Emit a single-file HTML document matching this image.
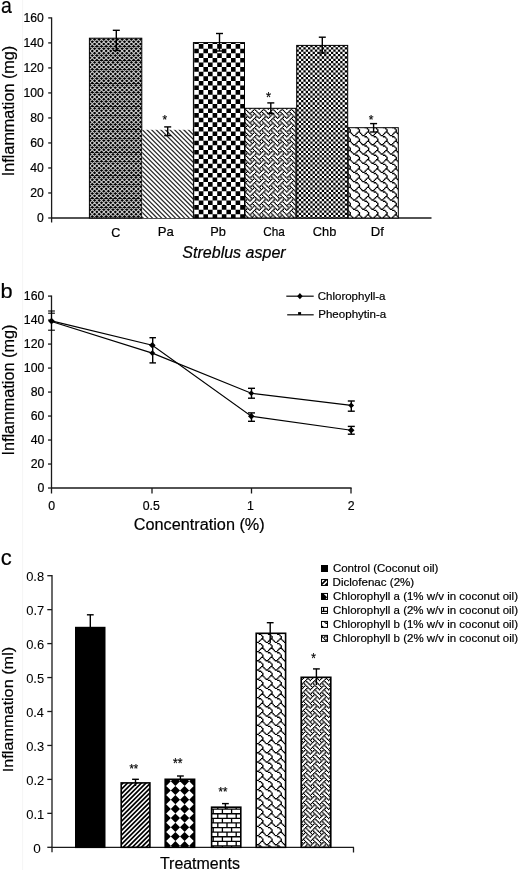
<!DOCTYPE html>
<html><head><meta charset="utf-8"><style>
html,body{margin:0;padding:0;background:#fff;}
svg{display:block;will-change:transform;}
text{font-family:"Liberation Sans",sans-serif;stroke:#000;stroke-width:0.2px;}
</style></head><body>
<svg width="520" height="870" viewBox="0 0 520 870">
<defs><pattern id="pC" patternUnits="userSpaceOnUse" x="0" y="0" width="46" height="46"><rect width="46" height="46" fill="#000"/><path transform="translate(2.6,0.3)" d="M-3 -53.60L49 -1.60M-3 -49.00L49 3.00M-3 -44.40L49 7.60M-3 -39.80L49 12.20M-3 -35.20L49 16.80M-3 -30.60L49 21.40M-3 -26.00L49 26.00M-3 -21.40L49 30.60M-3 -16.80L49 35.20M-3 -12.20L49 39.80M-3 -7.60L49 44.40M-3 -3.00L49 49.00M-3 1.60L49 53.60M-3 6.20L49 58.20M-3 10.80L49 62.80M-3 15.40L49 67.40M-3 20.00L49 72.00M-3 24.60L49 76.60M-3 29.20L49 81.20M-3 33.80L49 85.80M-3 38.40L49 90.40M-3 43.00L49 95.00M-3 47.60L49 99.60M-3 -1.60L49 -53.60M-3 3.00L49 -49.00M-3 7.60L49 -44.40M-3 12.20L49 -39.80M-3 16.80L49 -35.20M-3 21.40L49 -30.60M-3 26.00L49 -26.00M-3 30.60L49 -21.40M-3 35.20L49 -16.80M-3 39.80L49 -12.20M-3 44.40L49 -7.60M-3 49.00L49 -3.00M-3 53.60L49 1.60M-3 58.20L49 6.20M-3 62.80L49 10.80M-3 67.40L49 15.40M-3 72.00L49 20.00M-3 76.60L49 24.60M-3 81.20L49 29.20M-3 85.80L49 33.80M-3 90.40L49 38.40M-3 95.00L49 43.00M-3 99.60L49 47.60" stroke="#c8c8c8" stroke-width="1.05" fill="none"/></pattern><pattern id="pPa" patternUnits="userSpaceOnUse" x="0" y="0" width="46" height="46"><rect width="46" height="46" fill="#fff"/><path d="M-5.00 -63.60L51.00 -7.60M-5.00 -59.00L51.00 -3.00M-5.00 -54.40L51.00 1.60M-5.00 -49.80L51.00 6.20M-5.00 -45.20L51.00 10.80M-5.00 -40.60L51.00 15.40M-5.00 -36.00L51.00 20.00M-5.00 -31.40L51.00 24.60M-5.00 -26.80L51.00 29.20M-5.00 -22.20L51.00 33.80M-5.00 -17.60L51.00 38.40M-5.00 -13.00L51.00 43.00M-5.00 -8.40L51.00 47.60M-5.00 -3.80L51.00 52.20M-5.00 0.80L51.00 56.80M-5.00 5.40L51.00 61.40M-5.00 10.00L51.00 66.00M-5.00 14.60L51.00 70.60M-5.00 19.20L51.00 75.20M-5.00 23.80L51.00 79.80M-5.00 28.40L51.00 84.40M-5.00 33.00L51.00 89.00M-5.00 37.60L51.00 93.60M-5.00 42.20L51.00 98.20M-5.00 46.80L51.00 102.80M-5.00 51.40L51.00 107.40" stroke="#2a2a2a" stroke-width="1.269" fill="none"/></pattern><pattern id="pPb" patternUnits="userSpaceOnUse" x="0" y="0" width="46.000" height="46.000"><rect width="46.000" height="46.000" fill="#fff"/><path fill="#000" d="M0.00 0.00H1.00V2.70H0.00zM33.20 0.00H37.80V2.70H33.20zM24.00 0.00H28.60V2.70H24.00zM5.60 0.00H10.20V2.70H5.60zM42.40 0.00H46.00V2.70H42.40zM14.80 0.00H19.40V2.70H14.80zM1.00 2.70H5.60V7.30H1.00zM28.60 2.70H33.20V7.30H28.60zM37.80 2.70H42.40V7.30H37.80zM19.40 2.70H24.00V7.30H19.40zM10.20 2.70H14.80V7.30H10.20zM0.00 7.30H1.00V11.90H0.00zM33.20 7.30H37.80V11.90H33.20zM24.00 7.30H28.60V11.90H24.00zM5.60 7.30H10.20V11.90H5.60zM42.40 7.30H46.00V11.90H42.40zM14.80 7.30H19.40V11.90H14.80zM1.00 11.90H5.60V16.50H1.00zM28.60 11.90H33.20V16.50H28.60zM37.80 11.90H42.40V16.50H37.80zM19.40 11.90H24.00V16.50H19.40zM10.20 11.90H14.80V16.50H10.20zM0.00 16.50H1.00V21.10H0.00zM33.20 16.50H37.80V21.10H33.20zM24.00 16.50H28.60V21.10H24.00zM5.60 16.50H10.20V21.10H5.60zM42.40 16.50H46.00V21.10H42.40zM14.80 16.50H19.40V21.10H14.80zM1.00 21.10H5.60V25.70H1.00zM28.60 21.10H33.20V25.70H28.60zM37.80 21.10H42.40V25.70H37.80zM19.40 21.10H24.00V25.70H19.40zM10.20 21.10H14.80V25.70H10.20zM0.00 25.70H1.00V30.30H0.00zM33.20 25.70H37.80V30.30H33.20zM24.00 25.70H28.60V30.30H24.00zM5.60 25.70H10.20V30.30H5.60zM42.40 25.70H46.00V30.30H42.40zM14.80 25.70H19.40V30.30H14.80zM1.00 30.30H5.60V34.90H1.00zM28.60 30.30H33.20V34.90H28.60zM37.80 30.30H42.40V34.90H37.80zM19.40 30.30H24.00V34.90H19.40zM10.20 30.30H14.80V34.90H10.20zM0.00 34.90H1.00V39.50H0.00zM33.20 34.90H37.80V39.50H33.20zM24.00 34.90H28.60V39.50H24.00zM5.60 34.90H10.20V39.50H5.60zM42.40 34.90H46.00V39.50H42.40zM14.80 34.90H19.40V39.50H14.80zM1.00 39.50H5.60V44.10H1.00zM28.60 39.50H33.20V44.10H28.60zM37.80 39.50H42.40V44.10H37.80zM19.40 39.50H24.00V44.10H19.40zM10.20 39.50H14.80V44.10H10.20zM0.00 44.10H1.00V46.00H0.00zM33.20 44.10H37.80V46.00H33.20zM24.00 44.10H28.60V46.00H24.00zM5.60 44.10H10.20V46.00H5.60zM42.40 44.10H46.00V46.00H42.40zM14.80 44.10H19.40V46.00H14.80z"/></pattern><pattern id="pChb" patternUnits="userSpaceOnUse" x="0" y="0" width="46.000" height="46.000"><rect width="46.000" height="46.000" fill="#fff"/><path fill="#000" d="M34.30 0.00H36.60V1.15H34.30zM25.10 0.00H27.40V1.15H25.10zM29.70 0.00H32.00V1.15H29.70zM6.70 0.00H9.00V1.15H6.70zM2.10 0.00H4.40V1.15H2.10zM43.50 0.00H45.80V1.15H43.50zM38.90 0.00H41.20V1.15H38.90zM20.50 0.00H22.80V1.15H20.50zM11.30 0.00H13.60V1.15H11.30zM15.90 0.00H18.20V1.15H15.90zM41.20 1.15H43.50V3.45H41.20zM45.80 1.15H46.00V3.45H45.80zM22.80 1.15H25.10V3.45H22.80zM4.40 1.15H6.70V3.45H4.40zM13.60 1.15H15.90V3.45H13.60zM18.20 1.15H20.50V3.45H18.20zM0.00 1.15H2.10V3.45H0.00zM36.60 1.15H38.90V3.45H36.60zM27.40 1.15H29.70V3.45H27.40zM32.00 1.15H34.30V3.45H32.00zM9.00 1.15H11.30V3.45H9.00zM34.30 3.45H36.60V5.75H34.30zM25.10 3.45H27.40V5.75H25.10zM29.70 3.45H32.00V5.75H29.70zM6.70 3.45H9.00V5.75H6.70zM2.10 3.45H4.40V5.75H2.10zM43.50 3.45H45.80V5.75H43.50zM38.90 3.45H41.20V5.75H38.90zM20.50 3.45H22.80V5.75H20.50zM11.30 3.45H13.60V5.75H11.30zM15.90 3.45H18.20V5.75H15.90zM41.20 5.75H43.50V8.05H41.20zM45.80 5.75H46.00V8.05H45.80zM22.80 5.75H25.10V8.05H22.80zM4.40 5.75H6.70V8.05H4.40zM13.60 5.75H15.90V8.05H13.60zM18.20 5.75H20.50V8.05H18.20zM0.00 5.75H2.10V8.05H0.00zM36.60 5.75H38.90V8.05H36.60zM27.40 5.75H29.70V8.05H27.40zM32.00 5.75H34.30V8.05H32.00zM9.00 5.75H11.30V8.05H9.00zM34.30 8.05H36.60V10.35H34.30zM25.10 8.05H27.40V10.35H25.10zM29.70 8.05H32.00V10.35H29.70zM6.70 8.05H9.00V10.35H6.70zM2.10 8.05H4.40V10.35H2.10zM43.50 8.05H45.80V10.35H43.50zM38.90 8.05H41.20V10.35H38.90zM20.50 8.05H22.80V10.35H20.50zM11.30 8.05H13.60V10.35H11.30zM15.90 8.05H18.20V10.35H15.90zM41.20 10.35H43.50V12.65H41.20zM45.80 10.35H46.00V12.65H45.80zM22.80 10.35H25.10V12.65H22.80zM4.40 10.35H6.70V12.65H4.40zM13.60 10.35H15.90V12.65H13.60zM18.20 10.35H20.50V12.65H18.20zM0.00 10.35H2.10V12.65H0.00zM36.60 10.35H38.90V12.65H36.60zM27.40 10.35H29.70V12.65H27.40zM32.00 10.35H34.30V12.65H32.00zM9.00 10.35H11.30V12.65H9.00zM34.30 12.65H36.60V14.95H34.30zM25.10 12.65H27.40V14.95H25.10zM29.70 12.65H32.00V14.95H29.70zM6.70 12.65H9.00V14.95H6.70zM2.10 12.65H4.40V14.95H2.10zM43.50 12.65H45.80V14.95H43.50zM38.90 12.65H41.20V14.95H38.90zM20.50 12.65H22.80V14.95H20.50zM11.30 12.65H13.60V14.95H11.30zM15.90 12.65H18.20V14.95H15.90zM41.20 14.95H43.50V17.25H41.20zM45.80 14.95H46.00V17.25H45.80zM22.80 14.95H25.10V17.25H22.80zM4.40 14.95H6.70V17.25H4.40zM13.60 14.95H15.90V17.25H13.60zM18.20 14.95H20.50V17.25H18.20zM0.00 14.95H2.10V17.25H0.00zM36.60 14.95H38.90V17.25H36.60zM27.40 14.95H29.70V17.25H27.40zM32.00 14.95H34.30V17.25H32.00zM9.00 14.95H11.30V17.25H9.00zM34.30 17.25H36.60V19.55H34.30zM25.10 17.25H27.40V19.55H25.10zM29.70 17.25H32.00V19.55H29.70zM6.70 17.25H9.00V19.55H6.70zM2.10 17.25H4.40V19.55H2.10zM43.50 17.25H45.80V19.55H43.50zM38.90 17.25H41.20V19.55H38.90zM20.50 17.25H22.80V19.55H20.50zM11.30 17.25H13.60V19.55H11.30zM15.90 17.25H18.20V19.55H15.90zM41.20 19.55H43.50V21.85H41.20zM45.80 19.55H46.00V21.85H45.80zM22.80 19.55H25.10V21.85H22.80zM4.40 19.55H6.70V21.85H4.40zM13.60 19.55H15.90V21.85H13.60zM18.20 19.55H20.50V21.85H18.20zM0.00 19.55H2.10V21.85H0.00zM36.60 19.55H38.90V21.85H36.60zM27.40 19.55H29.70V21.85H27.40zM32.00 19.55H34.30V21.85H32.00zM9.00 19.55H11.30V21.85H9.00zM34.30 21.85H36.60V24.15H34.30zM25.10 21.85H27.40V24.15H25.10zM29.70 21.85H32.00V24.15H29.70zM6.70 21.85H9.00V24.15H6.70zM2.10 21.85H4.40V24.15H2.10zM43.50 21.85H45.80V24.15H43.50zM38.90 21.85H41.20V24.15H38.90zM20.50 21.85H22.80V24.15H20.50zM11.30 21.85H13.60V24.15H11.30zM15.90 21.85H18.20V24.15H15.90zM41.20 24.15H43.50V26.45H41.20zM45.80 24.15H46.00V26.45H45.80zM22.80 24.15H25.10V26.45H22.80zM4.40 24.15H6.70V26.45H4.40zM13.60 24.15H15.90V26.45H13.60zM18.20 24.15H20.50V26.45H18.20zM0.00 24.15H2.10V26.45H0.00zM36.60 24.15H38.90V26.45H36.60zM27.40 24.15H29.70V26.45H27.40zM32.00 24.15H34.30V26.45H32.00zM9.00 24.15H11.30V26.45H9.00zM34.30 26.45H36.60V28.75H34.30zM25.10 26.45H27.40V28.75H25.10zM29.70 26.45H32.00V28.75H29.70zM6.70 26.45H9.00V28.75H6.70zM2.10 26.45H4.40V28.75H2.10zM43.50 26.45H45.80V28.75H43.50zM38.90 26.45H41.20V28.75H38.90zM20.50 26.45H22.80V28.75H20.50zM11.30 26.45H13.60V28.75H11.30zM15.90 26.45H18.20V28.75H15.90zM41.20 28.75H43.50V31.05H41.20zM45.80 28.75H46.00V31.05H45.80zM22.80 28.75H25.10V31.05H22.80zM4.40 28.75H6.70V31.05H4.40zM13.60 28.75H15.90V31.05H13.60zM18.20 28.75H20.50V31.05H18.20zM0.00 28.75H2.10V31.05H0.00zM36.60 28.75H38.90V31.05H36.60zM27.40 28.75H29.70V31.05H27.40zM32.00 28.75H34.30V31.05H32.00zM9.00 28.75H11.30V31.05H9.00zM34.30 31.05H36.60V33.35H34.30zM25.10 31.05H27.40V33.35H25.10zM29.70 31.05H32.00V33.35H29.70zM6.70 31.05H9.00V33.35H6.70zM2.10 31.05H4.40V33.35H2.10zM43.50 31.05H45.80V33.35H43.50zM38.90 31.05H41.20V33.35H38.90zM20.50 31.05H22.80V33.35H20.50zM11.30 31.05H13.60V33.35H11.30zM15.90 31.05H18.20V33.35H15.90zM41.20 33.35H43.50V35.65H41.20zM45.80 33.35H46.00V35.65H45.80zM22.80 33.35H25.10V35.65H22.80zM4.40 33.35H6.70V35.65H4.40zM13.60 33.35H15.90V35.65H13.60zM18.20 33.35H20.50V35.65H18.20zM0.00 33.35H2.10V35.65H0.00zM36.60 33.35H38.90V35.65H36.60zM27.40 33.35H29.70V35.65H27.40zM32.00 33.35H34.30V35.65H32.00zM9.00 33.35H11.30V35.65H9.00zM34.30 35.65H36.60V37.95H34.30zM25.10 35.65H27.40V37.95H25.10zM29.70 35.65H32.00V37.95H29.70zM6.70 35.65H9.00V37.95H6.70zM2.10 35.65H4.40V37.95H2.10zM43.50 35.65H45.80V37.95H43.50zM38.90 35.65H41.20V37.95H38.90zM20.50 35.65H22.80V37.95H20.50zM11.30 35.65H13.60V37.95H11.30zM15.90 35.65H18.20V37.95H15.90zM41.20 37.95H43.50V40.25H41.20zM45.80 37.95H46.00V40.25H45.80zM22.80 37.95H25.10V40.25H22.80zM4.40 37.95H6.70V40.25H4.40zM13.60 37.95H15.90V40.25H13.60zM18.20 37.95H20.50V40.25H18.20zM0.00 37.95H2.10V40.25H0.00zM36.60 37.95H38.90V40.25H36.60zM27.40 37.95H29.70V40.25H27.40zM32.00 37.95H34.30V40.25H32.00zM9.00 37.95H11.30V40.25H9.00zM34.30 40.25H36.60V42.55H34.30zM25.10 40.25H27.40V42.55H25.10zM29.70 40.25H32.00V42.55H29.70zM6.70 40.25H9.00V42.55H6.70zM2.10 40.25H4.40V42.55H2.10zM43.50 40.25H45.80V42.55H43.50zM38.90 40.25H41.20V42.55H38.90zM20.50 40.25H22.80V42.55H20.50zM11.30 40.25H13.60V42.55H11.30zM15.90 40.25H18.20V42.55H15.90zM41.20 42.55H43.50V44.85H41.20zM45.80 42.55H46.00V44.85H45.80zM22.80 42.55H25.10V44.85H22.80zM4.40 42.55H6.70V44.85H4.40zM13.60 42.55H15.90V44.85H13.60zM18.20 42.55H20.50V44.85H18.20zM0.00 42.55H2.10V44.85H0.00zM36.60 42.55H38.90V44.85H36.60zM27.40 42.55H29.70V44.85H27.40zM32.00 42.55H34.30V44.85H32.00zM9.00 42.55H11.30V44.85H9.00zM34.30 44.85H36.60V46.00H34.30zM25.10 44.85H27.40V46.00H25.10zM29.70 44.85H32.00V46.00H29.70zM6.70 44.85H9.00V46.00H6.70zM2.10 44.85H4.40V46.00H2.10zM43.50 44.85H45.80V46.00H43.50zM38.90 44.85H41.20V46.00H38.90zM20.50 44.85H22.80V46.00H20.50zM11.30 44.85H13.60V46.00H11.30zM15.90 44.85H18.20V46.00H15.90z"/></pattern><pattern id="pWeave" patternUnits="userSpaceOnUse" x="0" y="0" width="46.000" height="46.000"><rect width="46.000" height="46.000" fill="#fff"/><path fill="#000" d="M6.64 0.00H8.01V0.61H6.64zM31.94 0.00H33.31V0.61H31.94zM34.24 0.00H35.61V0.61H34.24zM15.84 0.00H17.21V0.61H15.84zM41.14 0.00H42.51V0.61H41.14zM22.74 0.00H24.11V0.61H22.74zM4.34 0.00H5.71V0.61H4.34zM25.04 0.00H26.41V0.61H25.04zM43.44 0.00H44.81V0.61H43.44zM13.54 0.00H14.91V0.61H13.54zM35.39 0.39H36.76V1.76H35.39zM16.99 0.39H18.36V1.76H16.99zM44.59 0.39H45.96V1.76H44.59zM30.79 0.39H32.16V1.76H30.79zM12.39 0.39H13.76V1.76H12.39zM21.59 0.39H22.96V1.76H21.59zM3.19 0.39H4.56V1.76H3.19zM7.79 0.39H9.16V1.76H7.79zM39.99 0.39H41.36V1.76H39.99zM26.19 0.39H27.56V1.76H26.19zM20.44 1.54H21.81V2.91H20.44zM27.34 1.54H28.71V2.91H27.34zM31.94 1.54H33.31V2.91H31.94zM0.00 1.54H1.11V2.91H0.00zM8.94 1.54H10.31V2.91H8.94zM11.24 1.54H12.61V2.91H11.24zM2.04 1.54H3.41V2.91H2.04zM29.64 1.54H31.01V2.91H29.64zM41.14 1.54H42.51V2.91H41.14zM38.84 1.54H40.21V2.91H38.84zM22.74 1.54H24.11V2.91H22.74zM45.74 1.54H46.00V2.91H45.74zM4.34 1.54H5.71V2.91H4.34zM36.54 1.54H37.91V2.91H36.54zM13.54 1.54H14.91V2.91H13.54zM18.14 1.54H19.51V2.91H18.14zM5.49 2.69H6.86V4.06H5.49zM10.09 2.69H11.46V4.06H10.09zM19.29 2.69H20.66V4.06H19.29zM0.89 2.69H2.26V4.06H0.89zM42.29 2.69H43.66V4.06H42.29zM23.89 2.69H25.26V4.06H23.89zM33.09 2.69H34.46V4.06H33.09zM37.69 2.69H39.06V4.06H37.69zM14.69 2.69H16.06V4.06H14.69zM28.49 2.69H29.86V4.06H28.49zM20.44 3.84H21.81V5.21H20.44zM6.64 3.84H8.01V5.21H6.64zM31.94 3.84H33.31V5.21H31.94zM11.24 3.84H12.61V5.21H11.24zM2.04 3.84H3.41V5.21H2.04zM29.64 3.84H31.01V5.21H29.64zM34.24 3.84H35.61V5.21H34.24zM15.84 3.84H17.21V5.21H15.84zM41.14 3.84H42.51V5.21H41.14zM22.74 3.84H24.11V5.21H22.74zM4.34 3.84H5.71V5.21H4.34zM25.04 3.84H26.41V5.21H25.04zM43.44 3.84H44.81V5.21H43.44zM13.54 3.84H14.91V5.21H13.54zM38.84 3.84H40.21V5.21H38.84zM35.39 4.99H36.76V6.36H35.39zM16.99 4.99H18.36V6.36H16.99zM44.59 4.99H45.96V6.36H44.59zM30.79 4.99H32.16V6.36H30.79zM12.39 4.99H13.76V6.36H12.39zM21.59 4.99H22.96V6.36H21.59zM3.19 4.99H4.56V6.36H3.19zM7.79 4.99H9.16V6.36H7.79zM39.99 4.99H41.36V6.36H39.99zM26.19 4.99H27.56V6.36H26.19zM20.44 6.14H21.81V7.51H20.44zM6.64 6.14H8.01V7.51H6.64zM27.34 6.14H28.71V7.51H27.34zM0.00 6.14H1.11V7.51H0.00zM8.94 6.14H10.31V7.51H8.94zM11.24 6.14H12.61V7.51H11.24zM2.04 6.14H3.41V7.51H2.04zM29.64 6.14H31.01V7.51H29.64zM34.24 6.14H35.61V7.51H34.24zM15.84 6.14H17.21V7.51H15.84zM38.84 6.14H40.21V7.51H38.84zM45.74 6.14H46.00V7.51H45.74zM25.04 6.14H26.41V7.51H25.04zM43.44 6.14H44.81V7.51H43.44zM36.54 6.14H37.91V7.51H36.54zM18.14 6.14H19.51V7.51H18.14zM5.49 7.29H6.86V8.66H5.49zM10.09 7.29H11.46V8.66H10.09zM19.29 7.29H20.66V8.66H19.29zM0.89 7.29H2.26V8.66H0.89zM42.29 7.29H43.66V8.66H42.29zM23.89 7.29H25.26V8.66H23.89zM33.09 7.29H34.46V8.66H33.09zM37.69 7.29H39.06V8.66H37.69zM14.69 7.29H16.06V8.66H14.69zM28.49 7.29H29.86V8.66H28.49zM6.64 8.44H8.01V9.81H6.64zM31.94 8.44H33.31V9.81H31.94zM34.24 8.44H35.61V9.81H34.24zM15.84 8.44H17.21V9.81H15.84zM41.14 8.44H42.51V9.81H41.14zM22.74 8.44H24.11V9.81H22.74zM4.34 8.44H5.71V9.81H4.34zM25.04 8.44H26.41V9.81H25.04zM43.44 8.44H44.81V9.81H43.44zM13.54 8.44H14.91V9.81H13.54zM35.39 9.59H36.76V10.96H35.39zM16.99 9.59H18.36V10.96H16.99zM44.59 9.59H45.96V10.96H44.59zM30.79 9.59H32.16V10.96H30.79zM12.39 9.59H13.76V10.96H12.39zM21.59 9.59H22.96V10.96H21.59zM3.19 9.59H4.56V10.96H3.19zM7.79 9.59H9.16V10.96H7.79zM39.99 9.59H41.36V10.96H39.99zM26.19 9.59H27.56V10.96H26.19zM20.44 10.74H21.81V12.11H20.44zM27.34 10.74H28.71V12.11H27.34zM31.94 10.74H33.31V12.11H31.94zM0.00 10.74H1.11V12.11H0.00zM8.94 10.74H10.31V12.11H8.94zM11.24 10.74H12.61V12.11H11.24zM2.04 10.74H3.41V12.11H2.04zM29.64 10.74H31.01V12.11H29.64zM41.14 10.74H42.51V12.11H41.14zM38.84 10.74H40.21V12.11H38.84zM22.74 10.74H24.11V12.11H22.74zM45.74 10.74H46.00V12.11H45.74zM4.34 10.74H5.71V12.11H4.34zM36.54 10.74H37.91V12.11H36.54zM13.54 10.74H14.91V12.11H13.54zM18.14 10.74H19.51V12.11H18.14zM5.49 11.89H6.86V13.26H5.49zM10.09 11.89H11.46V13.26H10.09zM19.29 11.89H20.66V13.26H19.29zM0.89 11.89H2.26V13.26H0.89zM42.29 11.89H43.66V13.26H42.29zM23.89 11.89H25.26V13.26H23.89zM33.09 11.89H34.46V13.26H33.09zM37.69 11.89H39.06V13.26H37.69zM14.69 11.89H16.06V13.26H14.69zM28.49 11.89H29.86V13.26H28.49zM20.44 13.04H21.81V14.41H20.44zM6.64 13.04H8.01V14.41H6.64zM31.94 13.04H33.31V14.41H31.94zM11.24 13.04H12.61V14.41H11.24zM2.04 13.04H3.41V14.41H2.04zM29.64 13.04H31.01V14.41H29.64zM34.24 13.04H35.61V14.41H34.24zM15.84 13.04H17.21V14.41H15.84zM41.14 13.04H42.51V14.41H41.14zM22.74 13.04H24.11V14.41H22.74zM4.34 13.04H5.71V14.41H4.34zM25.04 13.04H26.41V14.41H25.04zM43.44 13.04H44.81V14.41H43.44zM13.54 13.04H14.91V14.41H13.54zM38.84 13.04H40.21V14.41H38.84zM35.39 14.19H36.76V15.56H35.39zM16.99 14.19H18.36V15.56H16.99zM44.59 14.19H45.96V15.56H44.59zM30.79 14.19H32.16V15.56H30.79zM12.39 14.19H13.76V15.56H12.39zM21.59 14.19H22.96V15.56H21.59zM3.19 14.19H4.56V15.56H3.19zM7.79 14.19H9.16V15.56H7.79zM39.99 14.19H41.36V15.56H39.99zM26.19 14.19H27.56V15.56H26.19zM20.44 15.34H21.81V16.71H20.44zM6.64 15.34H8.01V16.71H6.64zM27.34 15.34H28.71V16.71H27.34zM0.00 15.34H1.11V16.71H0.00zM8.94 15.34H10.31V16.71H8.94zM11.24 15.34H12.61V16.71H11.24zM2.04 15.34H3.41V16.71H2.04zM29.64 15.34H31.01V16.71H29.64zM34.24 15.34H35.61V16.71H34.24zM15.84 15.34H17.21V16.71H15.84zM38.84 15.34H40.21V16.71H38.84zM45.74 15.34H46.00V16.71H45.74zM25.04 15.34H26.41V16.71H25.04zM43.44 15.34H44.81V16.71H43.44zM36.54 15.34H37.91V16.71H36.54zM18.14 15.34H19.51V16.71H18.14zM5.49 16.49H6.86V17.86H5.49zM10.09 16.49H11.46V17.86H10.09zM19.29 16.49H20.66V17.86H19.29zM0.89 16.49H2.26V17.86H0.89zM42.29 16.49H43.66V17.86H42.29zM23.89 16.49H25.26V17.86H23.89zM33.09 16.49H34.46V17.86H33.09zM37.69 16.49H39.06V17.86H37.69zM14.69 16.49H16.06V17.86H14.69zM28.49 16.49H29.86V17.86H28.49zM6.64 17.64H8.01V19.01H6.64zM31.94 17.64H33.31V19.01H31.94zM34.24 17.64H35.61V19.01H34.24zM15.84 17.64H17.21V19.01H15.84zM41.14 17.64H42.51V19.01H41.14zM22.74 17.64H24.11V19.01H22.74zM4.34 17.64H5.71V19.01H4.34zM25.04 17.64H26.41V19.01H25.04zM43.44 17.64H44.81V19.01H43.44zM13.54 17.64H14.91V19.01H13.54zM35.39 18.79H36.76V20.16H35.39zM16.99 18.79H18.36V20.16H16.99zM44.59 18.79H45.96V20.16H44.59zM30.79 18.79H32.16V20.16H30.79zM12.39 18.79H13.76V20.16H12.39zM21.59 18.79H22.96V20.16H21.59zM3.19 18.79H4.56V20.16H3.19zM7.79 18.79H9.16V20.16H7.79zM39.99 18.79H41.36V20.16H39.99zM26.19 18.79H27.56V20.16H26.19zM20.44 19.94H21.81V21.31H20.44zM27.34 19.94H28.71V21.31H27.34zM31.94 19.94H33.31V21.31H31.94zM0.00 19.94H1.11V21.31H0.00zM8.94 19.94H10.31V21.31H8.94zM11.24 19.94H12.61V21.31H11.24zM2.04 19.94H3.41V21.31H2.04zM29.64 19.94H31.01V21.31H29.64zM41.14 19.94H42.51V21.31H41.14zM38.84 19.94H40.21V21.31H38.84zM22.74 19.94H24.11V21.31H22.74zM45.74 19.94H46.00V21.31H45.74zM4.34 19.94H5.71V21.31H4.34zM36.54 19.94H37.91V21.31H36.54zM13.54 19.94H14.91V21.31H13.54zM18.14 19.94H19.51V21.31H18.14zM5.49 21.09H6.86V22.46H5.49zM10.09 21.09H11.46V22.46H10.09zM19.29 21.09H20.66V22.46H19.29zM0.89 21.09H2.26V22.46H0.89zM42.29 21.09H43.66V22.46H42.29zM23.89 21.09H25.26V22.46H23.89zM33.09 21.09H34.46V22.46H33.09zM37.69 21.09H39.06V22.46H37.69zM14.69 21.09H16.06V22.46H14.69zM28.49 21.09H29.86V22.46H28.49zM20.44 22.24H21.81V23.61H20.44zM6.64 22.24H8.01V23.61H6.64zM31.94 22.24H33.31V23.61H31.94zM11.24 22.24H12.61V23.61H11.24zM2.04 22.24H3.41V23.61H2.04zM29.64 22.24H31.01V23.61H29.64zM34.24 22.24H35.61V23.61H34.24zM15.84 22.24H17.21V23.61H15.84zM41.14 22.24H42.51V23.61H41.14zM22.74 22.24H24.11V23.61H22.74zM4.34 22.24H5.71V23.61H4.34zM25.04 22.24H26.41V23.61H25.04zM43.44 22.24H44.81V23.61H43.44zM13.54 22.24H14.91V23.61H13.54zM38.84 22.24H40.21V23.61H38.84zM35.39 23.39H36.76V24.76H35.39zM16.99 23.39H18.36V24.76H16.99zM44.59 23.39H45.96V24.76H44.59zM30.79 23.39H32.16V24.76H30.79zM12.39 23.39H13.76V24.76H12.39zM21.59 23.39H22.96V24.76H21.59zM3.19 23.39H4.56V24.76H3.19zM7.79 23.39H9.16V24.76H7.79zM39.99 23.39H41.36V24.76H39.99zM26.19 23.39H27.56V24.76H26.19zM20.44 24.54H21.81V25.91H20.44zM6.64 24.54H8.01V25.91H6.64zM27.34 24.54H28.71V25.91H27.34zM0.00 24.54H1.11V25.91H0.00zM8.94 24.54H10.31V25.91H8.94zM11.24 24.54H12.61V25.91H11.24zM2.04 24.54H3.41V25.91H2.04zM29.64 24.54H31.01V25.91H29.64zM34.24 24.54H35.61V25.91H34.24zM15.84 24.54H17.21V25.91H15.84zM38.84 24.54H40.21V25.91H38.84zM45.74 24.54H46.00V25.91H45.74zM25.04 24.54H26.41V25.91H25.04zM43.44 24.54H44.81V25.91H43.44zM36.54 24.54H37.91V25.91H36.54zM18.14 24.54H19.51V25.91H18.14zM5.49 25.69H6.86V27.06H5.49zM10.09 25.69H11.46V27.06H10.09zM19.29 25.69H20.66V27.06H19.29zM0.89 25.69H2.26V27.06H0.89zM42.29 25.69H43.66V27.06H42.29zM23.89 25.69H25.26V27.06H23.89zM33.09 25.69H34.46V27.06H33.09zM37.69 25.69H39.06V27.06H37.69zM14.69 25.69H16.06V27.06H14.69zM28.49 25.69H29.86V27.06H28.49zM6.64 26.84H8.01V28.21H6.64zM31.94 26.84H33.31V28.21H31.94zM34.24 26.84H35.61V28.21H34.24zM15.84 26.84H17.21V28.21H15.84zM41.14 26.84H42.51V28.21H41.14zM22.74 26.84H24.11V28.21H22.74zM4.34 26.84H5.71V28.21H4.34zM25.04 26.84H26.41V28.21H25.04zM43.44 26.84H44.81V28.21H43.44zM13.54 26.84H14.91V28.21H13.54zM35.39 27.99H36.76V29.36H35.39zM16.99 27.99H18.36V29.36H16.99zM44.59 27.99H45.96V29.36H44.59zM30.79 27.99H32.16V29.36H30.79zM12.39 27.99H13.76V29.36H12.39zM21.59 27.99H22.96V29.36H21.59zM3.19 27.99H4.56V29.36H3.19zM7.79 27.99H9.16V29.36H7.79zM39.99 27.99H41.36V29.36H39.99zM26.19 27.99H27.56V29.36H26.19zM20.44 29.14H21.81V30.51H20.44zM27.34 29.14H28.71V30.51H27.34zM31.94 29.14H33.31V30.51H31.94zM0.00 29.14H1.11V30.51H0.00zM8.94 29.14H10.31V30.51H8.94zM11.24 29.14H12.61V30.51H11.24zM2.04 29.14H3.41V30.51H2.04zM29.64 29.14H31.01V30.51H29.64zM41.14 29.14H42.51V30.51H41.14zM38.84 29.14H40.21V30.51H38.84zM22.74 29.14H24.11V30.51H22.74zM45.74 29.14H46.00V30.51H45.74zM4.34 29.14H5.71V30.51H4.34zM36.54 29.14H37.91V30.51H36.54zM13.54 29.14H14.91V30.51H13.54zM18.14 29.14H19.51V30.51H18.14zM5.49 30.29H6.86V31.66H5.49zM10.09 30.29H11.46V31.66H10.09zM19.29 30.29H20.66V31.66H19.29zM0.89 30.29H2.26V31.66H0.89zM42.29 30.29H43.66V31.66H42.29zM23.89 30.29H25.26V31.66H23.89zM33.09 30.29H34.46V31.66H33.09zM37.69 30.29H39.06V31.66H37.69zM14.69 30.29H16.06V31.66H14.69zM28.49 30.29H29.86V31.66H28.49zM20.44 31.44H21.81V32.81H20.44zM6.64 31.44H8.01V32.81H6.64zM31.94 31.44H33.31V32.81H31.94zM11.24 31.44H12.61V32.81H11.24zM2.04 31.44H3.41V32.81H2.04zM29.64 31.44H31.01V32.81H29.64zM34.24 31.44H35.61V32.81H34.24zM15.84 31.44H17.21V32.81H15.84zM41.14 31.44H42.51V32.81H41.14zM22.74 31.44H24.11V32.81H22.74zM4.34 31.44H5.71V32.81H4.34zM25.04 31.44H26.41V32.81H25.04zM43.44 31.44H44.81V32.81H43.44zM13.54 31.44H14.91V32.81H13.54zM38.84 31.44H40.21V32.81H38.84zM35.39 32.59H36.76V33.96H35.39zM16.99 32.59H18.36V33.96H16.99zM44.59 32.59H45.96V33.96H44.59zM30.79 32.59H32.16V33.96H30.79zM12.39 32.59H13.76V33.96H12.39zM21.59 32.59H22.96V33.96H21.59zM3.19 32.59H4.56V33.96H3.19zM7.79 32.59H9.16V33.96H7.79zM39.99 32.59H41.36V33.96H39.99zM26.19 32.59H27.56V33.96H26.19zM20.44 33.74H21.81V35.11H20.44zM6.64 33.74H8.01V35.11H6.64zM27.34 33.74H28.71V35.11H27.34zM0.00 33.74H1.11V35.11H0.00zM8.94 33.74H10.31V35.11H8.94zM11.24 33.74H12.61V35.11H11.24zM2.04 33.74H3.41V35.11H2.04zM29.64 33.74H31.01V35.11H29.64zM34.24 33.74H35.61V35.11H34.24zM15.84 33.74H17.21V35.11H15.84zM38.84 33.74H40.21V35.11H38.84zM45.74 33.74H46.00V35.11H45.74zM25.04 33.74H26.41V35.11H25.04zM43.44 33.74H44.81V35.11H43.44zM36.54 33.74H37.91V35.11H36.54zM18.14 33.74H19.51V35.11H18.14zM5.49 34.89H6.86V36.26H5.49zM10.09 34.89H11.46V36.26H10.09zM19.29 34.89H20.66V36.26H19.29zM0.89 34.89H2.26V36.26H0.89zM42.29 34.89H43.66V36.26H42.29zM23.89 34.89H25.26V36.26H23.89zM33.09 34.89H34.46V36.26H33.09zM37.69 34.89H39.06V36.26H37.69zM14.69 34.89H16.06V36.26H14.69zM28.49 34.89H29.86V36.26H28.49zM6.64 36.04H8.01V37.41H6.64zM31.94 36.04H33.31V37.41H31.94zM34.24 36.04H35.61V37.41H34.24zM15.84 36.04H17.21V37.41H15.84zM41.14 36.04H42.51V37.41H41.14zM22.74 36.04H24.11V37.41H22.74zM4.34 36.04H5.71V37.41H4.34zM25.04 36.04H26.41V37.41H25.04zM43.44 36.04H44.81V37.41H43.44zM13.54 36.04H14.91V37.41H13.54zM35.39 37.19H36.76V38.56H35.39zM16.99 37.19H18.36V38.56H16.99zM44.59 37.19H45.96V38.56H44.59zM30.79 37.19H32.16V38.56H30.79zM12.39 37.19H13.76V38.56H12.39zM21.59 37.19H22.96V38.56H21.59zM3.19 37.19H4.56V38.56H3.19zM7.79 37.19H9.16V38.56H7.79zM39.99 37.19H41.36V38.56H39.99zM26.19 37.19H27.56V38.56H26.19zM20.44 38.34H21.81V39.71H20.44zM27.34 38.34H28.71V39.71H27.34zM31.94 38.34H33.31V39.71H31.94zM0.00 38.34H1.11V39.71H0.00zM8.94 38.34H10.31V39.71H8.94zM11.24 38.34H12.61V39.71H11.24zM2.04 38.34H3.41V39.71H2.04zM29.64 38.34H31.01V39.71H29.64zM41.14 38.34H42.51V39.71H41.14zM38.84 38.34H40.21V39.71H38.84zM22.74 38.34H24.11V39.71H22.74zM45.74 38.34H46.00V39.71H45.74zM4.34 38.34H5.71V39.71H4.34zM36.54 38.34H37.91V39.71H36.54zM13.54 38.34H14.91V39.71H13.54zM18.14 38.34H19.51V39.71H18.14zM5.49 39.49H6.86V40.86H5.49zM10.09 39.49H11.46V40.86H10.09zM19.29 39.49H20.66V40.86H19.29zM0.89 39.49H2.26V40.86H0.89zM42.29 39.49H43.66V40.86H42.29zM23.89 39.49H25.26V40.86H23.89zM33.09 39.49H34.46V40.86H33.09zM37.69 39.49H39.06V40.86H37.69zM14.69 39.49H16.06V40.86H14.69zM28.49 39.49H29.86V40.86H28.49zM20.44 40.64H21.81V42.01H20.44zM6.64 40.64H8.01V42.01H6.64zM31.94 40.64H33.31V42.01H31.94zM11.24 40.64H12.61V42.01H11.24zM2.04 40.64H3.41V42.01H2.04zM29.64 40.64H31.01V42.01H29.64zM34.24 40.64H35.61V42.01H34.24zM15.84 40.64H17.21V42.01H15.84zM41.14 40.64H42.51V42.01H41.14zM22.74 40.64H24.11V42.01H22.74zM4.34 40.64H5.71V42.01H4.34zM25.04 40.64H26.41V42.01H25.04zM43.44 40.64H44.81V42.01H43.44zM13.54 40.64H14.91V42.01H13.54zM38.84 40.64H40.21V42.01H38.84zM35.39 41.79H36.76V43.16H35.39zM16.99 41.79H18.36V43.16H16.99zM44.59 41.79H45.96V43.16H44.59zM30.79 41.79H32.16V43.16H30.79zM12.39 41.79H13.76V43.16H12.39zM21.59 41.79H22.96V43.16H21.59zM3.19 41.79H4.56V43.16H3.19zM7.79 41.79H9.16V43.16H7.79zM39.99 41.79H41.36V43.16H39.99zM26.19 41.79H27.56V43.16H26.19zM20.44 42.94H21.81V44.31H20.44zM6.64 42.94H8.01V44.31H6.64zM27.34 42.94H28.71V44.31H27.34zM0.00 42.94H1.11V44.31H0.00zM8.94 42.94H10.31V44.31H8.94zM11.24 42.94H12.61V44.31H11.24zM2.04 42.94H3.41V44.31H2.04zM29.64 42.94H31.01V44.31H29.64zM34.24 42.94H35.61V44.31H34.24zM15.84 42.94H17.21V44.31H15.84zM38.84 42.94H40.21V44.31H38.84zM45.74 42.94H46.00V44.31H45.74zM25.04 42.94H26.41V44.31H25.04zM43.44 42.94H44.81V44.31H43.44zM36.54 42.94H37.91V44.31H36.54zM18.14 42.94H19.51V44.31H18.14zM5.49 44.09H6.86V45.46H5.49zM10.09 44.09H11.46V45.46H10.09zM19.29 44.09H20.66V45.46H19.29zM0.89 44.09H2.26V45.46H0.89zM42.29 44.09H43.66V45.46H42.29zM23.89 44.09H25.26V45.46H23.89zM33.09 44.09H34.46V45.46H33.09zM37.69 44.09H39.06V45.46H37.69zM14.69 44.09H16.06V45.46H14.69zM28.49 44.09H29.86V45.46H28.49zM6.64 45.24H8.01V46.00H6.64zM31.94 45.24H33.31V46.00H31.94zM34.24 45.24H35.61V46.00H34.24zM15.84 45.24H17.21V46.00H15.84zM41.14 45.24H42.51V46.00H41.14zM22.74 45.24H24.11V46.00H22.74zM4.34 45.24H5.71V46.00H4.34zM25.04 45.24H26.41V46.00H25.04zM43.44 45.24H44.81V46.00H43.44zM13.54 45.24H14.91V46.00H13.54z"/></pattern><pattern id="pWeaveC" patternUnits="userSpaceOnUse" x="0" y="0" width="46.000" height="46.000"><rect width="46.000" height="46.000" fill="#fff"/><path fill="#000" d="M42.79 0.00H44.16V0.46H42.79zM10.59 0.00H11.96V0.46H10.59zM1.39 0.00H2.76V0.46H1.39zM33.59 0.00H34.96V0.46H33.59zM38.19 0.00H39.56V0.46H38.19zM19.79 0.00H21.16V0.46H19.79zM24.39 0.00H25.76V0.46H24.39zM5.99 0.00H7.36V0.46H5.99zM28.99 0.00H30.36V0.46H28.99zM15.19 0.00H16.56V0.46H15.19zM30.14 0.24H31.51V1.61H30.14zM9.44 0.24H10.81V1.61H9.44zM39.34 0.24H40.71V1.61H39.34zM20.94 0.24H22.31V1.61H20.94zM2.54 0.24H3.91V1.61H2.54zM27.84 0.24H29.21V1.61H27.84zM11.74 0.24H13.11V1.61H11.74zM37.04 0.24H38.41V1.61H37.04zM18.64 0.24H20.01V1.61H18.64zM0.24 0.24H1.61V1.61H0.24zM0.00 1.39H0.46V2.76H0.00zM40.49 1.39H41.86V2.76H40.49zM17.49 1.39H18.86V2.76H17.49zM22.09 1.39H23.46V2.76H22.09zM31.29 1.39H32.66V2.76H31.29zM12.89 1.39H14.26V2.76H12.89zM35.89 1.39H37.26V2.76H35.89zM45.09 1.39H46.00V2.76H45.09zM26.69 1.39H28.06V2.76H26.69zM3.69 1.39H5.06V2.76H3.69zM8.29 1.39H9.66V2.76H8.29zM18.64 2.54H20.01V3.91H18.64zM25.54 2.54H26.91V3.91H25.54zM41.64 2.54H43.01V3.91H41.64zM32.44 2.54H33.81V3.91H32.44zM9.44 2.54H10.81V3.91H9.44zM14.04 2.54H15.41V3.91H14.04zM43.94 2.54H45.31V3.91H43.94zM37.04 2.54H38.41V3.91H37.04zM23.24 2.54H24.61V3.91H23.24zM4.84 2.54H6.21V3.91H4.84zM27.84 2.54H29.21V3.91H27.84zM34.74 2.54H36.11V3.91H34.74zM16.34 2.54H17.71V3.91H16.34zM0.24 2.54H1.61V3.91H0.24zM7.14 2.54H8.51V3.91H7.14zM42.79 3.69H44.16V5.06H42.79zM10.59 3.69H11.96V5.06H10.59zM1.39 3.69H2.76V5.06H1.39zM33.59 3.69H34.96V5.06H33.59zM38.19 3.69H39.56V5.06H38.19zM19.79 3.69H21.16V5.06H19.79zM24.39 3.69H25.76V5.06H24.39zM5.99 3.69H7.36V5.06H5.99zM28.99 3.69H30.36V5.06H28.99zM15.19 3.69H16.56V5.06H15.19zM18.64 4.84H20.01V6.21H18.64zM25.54 4.84H26.91V6.21H25.54zM30.14 4.84H31.51V6.21H30.14zM9.44 4.84H10.81V6.21H9.44zM39.34 4.84H40.71V6.21H39.34zM43.94 4.84H45.31V6.21H43.94zM20.94 4.84H22.31V6.21H20.94zM37.04 4.84H38.41V6.21H37.04zM2.54 4.84H3.91V6.21H2.54zM27.84 4.84H29.21V6.21H27.84zM34.74 4.84H36.11V6.21H34.74zM11.74 4.84H13.11V6.21H11.74zM16.34 4.84H17.71V6.21H16.34zM0.24 4.84H1.61V6.21H0.24zM7.14 4.84H8.51V6.21H7.14zM0.00 5.99H0.46V7.36H0.00zM40.49 5.99H41.86V7.36H40.49zM17.49 5.99H18.86V7.36H17.49zM22.09 5.99H23.46V7.36H22.09zM31.29 5.99H32.66V7.36H31.29zM12.89 5.99H14.26V7.36H12.89zM35.89 5.99H37.26V7.36H35.89zM45.09 5.99H46.00V7.36H45.09zM26.69 5.99H28.06V7.36H26.69zM3.69 5.99H5.06V7.36H3.69zM8.29 5.99H9.66V7.36H8.29zM25.54 7.14H26.91V8.51H25.54zM30.14 7.14H31.51V8.51H30.14zM41.64 7.14H43.01V8.51H41.64zM32.44 7.14H33.81V8.51H32.44zM14.04 7.14H15.41V8.51H14.04zM39.34 7.14H40.71V8.51H39.34zM20.94 7.14H22.31V8.51H20.94zM43.94 7.14H45.31V8.51H43.94zM2.54 7.14H3.91V8.51H2.54zM23.24 7.14H24.61V8.51H23.24zM4.84 7.14H6.21V8.51H4.84zM34.74 7.14H36.11V8.51H34.74zM11.74 7.14H13.11V8.51H11.74zM16.34 7.14H17.71V8.51H16.34zM7.14 7.14H8.51V8.51H7.14zM42.79 8.29H44.16V9.66H42.79zM10.59 8.29H11.96V9.66H10.59zM1.39 8.29H2.76V9.66H1.39zM33.59 8.29H34.96V9.66H33.59zM38.19 8.29H39.56V9.66H38.19zM19.79 8.29H21.16V9.66H19.79zM24.39 8.29H25.76V9.66H24.39zM5.99 8.29H7.36V9.66H5.99zM28.99 8.29H30.36V9.66H28.99zM15.19 8.29H16.56V9.66H15.19zM30.14 9.44H31.51V10.81H30.14zM9.44 9.44H10.81V10.81H9.44zM39.34 9.44H40.71V10.81H39.34zM20.94 9.44H22.31V10.81H20.94zM2.54 9.44H3.91V10.81H2.54zM27.84 9.44H29.21V10.81H27.84zM11.74 9.44H13.11V10.81H11.74zM37.04 9.44H38.41V10.81H37.04zM18.64 9.44H20.01V10.81H18.64zM0.24 9.44H1.61V10.81H0.24zM0.00 10.59H0.46V11.96H0.00zM40.49 10.59H41.86V11.96H40.49zM17.49 10.59H18.86V11.96H17.49zM22.09 10.59H23.46V11.96H22.09zM31.29 10.59H32.66V11.96H31.29zM12.89 10.59H14.26V11.96H12.89zM35.89 10.59H37.26V11.96H35.89zM45.09 10.59H46.00V11.96H45.09zM26.69 10.59H28.06V11.96H26.69zM3.69 10.59H5.06V11.96H3.69zM8.29 10.59H9.66V11.96H8.29zM18.64 11.74H20.01V13.11H18.64zM25.54 11.74H26.91V13.11H25.54zM41.64 11.74H43.01V13.11H41.64zM32.44 11.74H33.81V13.11H32.44zM9.44 11.74H10.81V13.11H9.44zM14.04 11.74H15.41V13.11H14.04zM43.94 11.74H45.31V13.11H43.94zM37.04 11.74H38.41V13.11H37.04zM23.24 11.74H24.61V13.11H23.24zM4.84 11.74H6.21V13.11H4.84zM27.84 11.74H29.21V13.11H27.84zM34.74 11.74H36.11V13.11H34.74zM16.34 11.74H17.71V13.11H16.34zM0.24 11.74H1.61V13.11H0.24zM7.14 11.74H8.51V13.11H7.14zM42.79 12.89H44.16V14.26H42.79zM10.59 12.89H11.96V14.26H10.59zM1.39 12.89H2.76V14.26H1.39zM33.59 12.89H34.96V14.26H33.59zM38.19 12.89H39.56V14.26H38.19zM19.79 12.89H21.16V14.26H19.79zM24.39 12.89H25.76V14.26H24.39zM5.99 12.89H7.36V14.26H5.99zM28.99 12.89H30.36V14.26H28.99zM15.19 12.89H16.56V14.26H15.19zM18.64 14.04H20.01V15.41H18.64zM25.54 14.04H26.91V15.41H25.54zM30.14 14.04H31.51V15.41H30.14zM9.44 14.04H10.81V15.41H9.44zM39.34 14.04H40.71V15.41H39.34zM43.94 14.04H45.31V15.41H43.94zM20.94 14.04H22.31V15.41H20.94zM37.04 14.04H38.41V15.41H37.04zM2.54 14.04H3.91V15.41H2.54zM27.84 14.04H29.21V15.41H27.84zM34.74 14.04H36.11V15.41H34.74zM11.74 14.04H13.11V15.41H11.74zM16.34 14.04H17.71V15.41H16.34zM0.24 14.04H1.61V15.41H0.24zM7.14 14.04H8.51V15.41H7.14zM0.00 15.19H0.46V16.56H0.00zM40.49 15.19H41.86V16.56H40.49zM17.49 15.19H18.86V16.56H17.49zM22.09 15.19H23.46V16.56H22.09zM31.29 15.19H32.66V16.56H31.29zM12.89 15.19H14.26V16.56H12.89zM35.89 15.19H37.26V16.56H35.89zM45.09 15.19H46.00V16.56H45.09zM26.69 15.19H28.06V16.56H26.69zM3.69 15.19H5.06V16.56H3.69zM8.29 15.19H9.66V16.56H8.29zM25.54 16.34H26.91V17.71H25.54zM30.14 16.34H31.51V17.71H30.14zM41.64 16.34H43.01V17.71H41.64zM32.44 16.34H33.81V17.71H32.44zM14.04 16.34H15.41V17.71H14.04zM39.34 16.34H40.71V17.71H39.34zM20.94 16.34H22.31V17.71H20.94zM43.94 16.34H45.31V17.71H43.94zM2.54 16.34H3.91V17.71H2.54zM23.24 16.34H24.61V17.71H23.24zM4.84 16.34H6.21V17.71H4.84zM34.74 16.34H36.11V17.71H34.74zM11.74 16.34H13.11V17.71H11.74zM16.34 16.34H17.71V17.71H16.34zM7.14 16.34H8.51V17.71H7.14zM42.79 17.49H44.16V18.86H42.79zM10.59 17.49H11.96V18.86H10.59zM1.39 17.49H2.76V18.86H1.39zM33.59 17.49H34.96V18.86H33.59zM38.19 17.49H39.56V18.86H38.19zM19.79 17.49H21.16V18.86H19.79zM24.39 17.49H25.76V18.86H24.39zM5.99 17.49H7.36V18.86H5.99zM28.99 17.49H30.36V18.86H28.99zM15.19 17.49H16.56V18.86H15.19zM30.14 18.64H31.51V20.01H30.14zM9.44 18.64H10.81V20.01H9.44zM39.34 18.64H40.71V20.01H39.34zM20.94 18.64H22.31V20.01H20.94zM2.54 18.64H3.91V20.01H2.54zM27.84 18.64H29.21V20.01H27.84zM11.74 18.64H13.11V20.01H11.74zM37.04 18.64H38.41V20.01H37.04zM18.64 18.64H20.01V20.01H18.64zM0.24 18.64H1.61V20.01H0.24zM0.00 19.79H0.46V21.16H0.00zM40.49 19.79H41.86V21.16H40.49zM17.49 19.79H18.86V21.16H17.49zM22.09 19.79H23.46V21.16H22.09zM31.29 19.79H32.66V21.16H31.29zM12.89 19.79H14.26V21.16H12.89zM35.89 19.79H37.26V21.16H35.89zM45.09 19.79H46.00V21.16H45.09zM26.69 19.79H28.06V21.16H26.69zM3.69 19.79H5.06V21.16H3.69zM8.29 19.79H9.66V21.16H8.29zM18.64 20.94H20.01V22.31H18.64zM25.54 20.94H26.91V22.31H25.54zM41.64 20.94H43.01V22.31H41.64zM32.44 20.94H33.81V22.31H32.44zM9.44 20.94H10.81V22.31H9.44zM14.04 20.94H15.41V22.31H14.04zM43.94 20.94H45.31V22.31H43.94zM37.04 20.94H38.41V22.31H37.04zM23.24 20.94H24.61V22.31H23.24zM4.84 20.94H6.21V22.31H4.84zM27.84 20.94H29.21V22.31H27.84zM34.74 20.94H36.11V22.31H34.74zM16.34 20.94H17.71V22.31H16.34zM0.24 20.94H1.61V22.31H0.24zM7.14 20.94H8.51V22.31H7.14zM42.79 22.09H44.16V23.46H42.79zM10.59 22.09H11.96V23.46H10.59zM1.39 22.09H2.76V23.46H1.39zM33.59 22.09H34.96V23.46H33.59zM38.19 22.09H39.56V23.46H38.19zM19.79 22.09H21.16V23.46H19.79zM24.39 22.09H25.76V23.46H24.39zM5.99 22.09H7.36V23.46H5.99zM28.99 22.09H30.36V23.46H28.99zM15.19 22.09H16.56V23.46H15.19zM18.64 23.24H20.01V24.61H18.64zM25.54 23.24H26.91V24.61H25.54zM30.14 23.24H31.51V24.61H30.14zM9.44 23.24H10.81V24.61H9.44zM39.34 23.24H40.71V24.61H39.34zM43.94 23.24H45.31V24.61H43.94zM20.94 23.24H22.31V24.61H20.94zM37.04 23.24H38.41V24.61H37.04zM2.54 23.24H3.91V24.61H2.54zM27.84 23.24H29.21V24.61H27.84zM34.74 23.24H36.11V24.61H34.74zM11.74 23.24H13.11V24.61H11.74zM16.34 23.24H17.71V24.61H16.34zM0.24 23.24H1.61V24.61H0.24zM7.14 23.24H8.51V24.61H7.14zM0.00 24.39H0.46V25.76H0.00zM40.49 24.39H41.86V25.76H40.49zM17.49 24.39H18.86V25.76H17.49zM22.09 24.39H23.46V25.76H22.09zM31.29 24.39H32.66V25.76H31.29zM12.89 24.39H14.26V25.76H12.89zM35.89 24.39H37.26V25.76H35.89zM45.09 24.39H46.00V25.76H45.09zM26.69 24.39H28.06V25.76H26.69zM3.69 24.39H5.06V25.76H3.69zM8.29 24.39H9.66V25.76H8.29zM25.54 25.54H26.91V26.91H25.54zM30.14 25.54H31.51V26.91H30.14zM41.64 25.54H43.01V26.91H41.64zM32.44 25.54H33.81V26.91H32.44zM14.04 25.54H15.41V26.91H14.04zM39.34 25.54H40.71V26.91H39.34zM20.94 25.54H22.31V26.91H20.94zM43.94 25.54H45.31V26.91H43.94zM2.54 25.54H3.91V26.91H2.54zM23.24 25.54H24.61V26.91H23.24zM4.84 25.54H6.21V26.91H4.84zM34.74 25.54H36.11V26.91H34.74zM11.74 25.54H13.11V26.91H11.74zM16.34 25.54H17.71V26.91H16.34zM7.14 25.54H8.51V26.91H7.14zM42.79 26.69H44.16V28.06H42.79zM10.59 26.69H11.96V28.06H10.59zM1.39 26.69H2.76V28.06H1.39zM33.59 26.69H34.96V28.06H33.59zM38.19 26.69H39.56V28.06H38.19zM19.79 26.69H21.16V28.06H19.79zM24.39 26.69H25.76V28.06H24.39zM5.99 26.69H7.36V28.06H5.99zM28.99 26.69H30.36V28.06H28.99zM15.19 26.69H16.56V28.06H15.19zM30.14 27.84H31.51V29.21H30.14zM9.44 27.84H10.81V29.21H9.44zM39.34 27.84H40.71V29.21H39.34zM20.94 27.84H22.31V29.21H20.94zM2.54 27.84H3.91V29.21H2.54zM27.84 27.84H29.21V29.21H27.84zM11.74 27.84H13.11V29.21H11.74zM37.04 27.84H38.41V29.21H37.04zM18.64 27.84H20.01V29.21H18.64zM0.24 27.84H1.61V29.21H0.24zM0.00 28.99H0.46V30.36H0.00zM40.49 28.99H41.86V30.36H40.49zM17.49 28.99H18.86V30.36H17.49zM22.09 28.99H23.46V30.36H22.09zM31.29 28.99H32.66V30.36H31.29zM12.89 28.99H14.26V30.36H12.89zM35.89 28.99H37.26V30.36H35.89zM45.09 28.99H46.00V30.36H45.09zM26.69 28.99H28.06V30.36H26.69zM3.69 28.99H5.06V30.36H3.69zM8.29 28.99H9.66V30.36H8.29zM18.64 30.14H20.01V31.51H18.64zM25.54 30.14H26.91V31.51H25.54zM41.64 30.14H43.01V31.51H41.64zM32.44 30.14H33.81V31.51H32.44zM9.44 30.14H10.81V31.51H9.44zM14.04 30.14H15.41V31.51H14.04zM43.94 30.14H45.31V31.51H43.94zM37.04 30.14H38.41V31.51H37.04zM23.24 30.14H24.61V31.51H23.24zM4.84 30.14H6.21V31.51H4.84zM27.84 30.14H29.21V31.51H27.84zM34.74 30.14H36.11V31.51H34.74zM16.34 30.14H17.71V31.51H16.34zM0.24 30.14H1.61V31.51H0.24zM7.14 30.14H8.51V31.51H7.14zM42.79 31.29H44.16V32.66H42.79zM10.59 31.29H11.96V32.66H10.59zM1.39 31.29H2.76V32.66H1.39zM33.59 31.29H34.96V32.66H33.59zM38.19 31.29H39.56V32.66H38.19zM19.79 31.29H21.16V32.66H19.79zM24.39 31.29H25.76V32.66H24.39zM5.99 31.29H7.36V32.66H5.99zM28.99 31.29H30.36V32.66H28.99zM15.19 31.29H16.56V32.66H15.19zM18.64 32.44H20.01V33.81H18.64zM25.54 32.44H26.91V33.81H25.54zM30.14 32.44H31.51V33.81H30.14zM9.44 32.44H10.81V33.81H9.44zM39.34 32.44H40.71V33.81H39.34zM43.94 32.44H45.31V33.81H43.94zM20.94 32.44H22.31V33.81H20.94zM37.04 32.44H38.41V33.81H37.04zM2.54 32.44H3.91V33.81H2.54zM27.84 32.44H29.21V33.81H27.84zM34.74 32.44H36.11V33.81H34.74zM11.74 32.44H13.11V33.81H11.74zM16.34 32.44H17.71V33.81H16.34zM0.24 32.44H1.61V33.81H0.24zM7.14 32.44H8.51V33.81H7.14zM0.00 33.59H0.46V34.96H0.00zM40.49 33.59H41.86V34.96H40.49zM17.49 33.59H18.86V34.96H17.49zM22.09 33.59H23.46V34.96H22.09zM31.29 33.59H32.66V34.96H31.29zM12.89 33.59H14.26V34.96H12.89zM35.89 33.59H37.26V34.96H35.89zM45.09 33.59H46.00V34.96H45.09zM26.69 33.59H28.06V34.96H26.69zM3.69 33.59H5.06V34.96H3.69zM8.29 33.59H9.66V34.96H8.29zM25.54 34.74H26.91V36.11H25.54zM30.14 34.74H31.51V36.11H30.14zM41.64 34.74H43.01V36.11H41.64zM32.44 34.74H33.81V36.11H32.44zM14.04 34.74H15.41V36.11H14.04zM39.34 34.74H40.71V36.11H39.34zM20.94 34.74H22.31V36.11H20.94zM43.94 34.74H45.31V36.11H43.94zM2.54 34.74H3.91V36.11H2.54zM23.24 34.74H24.61V36.11H23.24zM4.84 34.74H6.21V36.11H4.84zM34.74 34.74H36.11V36.11H34.74zM11.74 34.74H13.11V36.11H11.74zM16.34 34.74H17.71V36.11H16.34zM7.14 34.74H8.51V36.11H7.14zM42.79 35.89H44.16V37.26H42.79zM10.59 35.89H11.96V37.26H10.59zM1.39 35.89H2.76V37.26H1.39zM33.59 35.89H34.96V37.26H33.59zM38.19 35.89H39.56V37.26H38.19zM19.79 35.89H21.16V37.26H19.79zM24.39 35.89H25.76V37.26H24.39zM5.99 35.89H7.36V37.26H5.99zM28.99 35.89H30.36V37.26H28.99zM15.19 35.89H16.56V37.26H15.19zM30.14 37.04H31.51V38.41H30.14zM9.44 37.04H10.81V38.41H9.44zM39.34 37.04H40.71V38.41H39.34zM20.94 37.04H22.31V38.41H20.94zM2.54 37.04H3.91V38.41H2.54zM27.84 37.04H29.21V38.41H27.84zM11.74 37.04H13.11V38.41H11.74zM37.04 37.04H38.41V38.41H37.04zM18.64 37.04H20.01V38.41H18.64zM0.24 37.04H1.61V38.41H0.24zM0.00 38.19H0.46V39.56H0.00zM40.49 38.19H41.86V39.56H40.49zM17.49 38.19H18.86V39.56H17.49zM22.09 38.19H23.46V39.56H22.09zM31.29 38.19H32.66V39.56H31.29zM12.89 38.19H14.26V39.56H12.89zM35.89 38.19H37.26V39.56H35.89zM45.09 38.19H46.00V39.56H45.09zM26.69 38.19H28.06V39.56H26.69zM3.69 38.19H5.06V39.56H3.69zM8.29 38.19H9.66V39.56H8.29zM18.64 39.34H20.01V40.71H18.64zM25.54 39.34H26.91V40.71H25.54zM41.64 39.34H43.01V40.71H41.64zM32.44 39.34H33.81V40.71H32.44zM9.44 39.34H10.81V40.71H9.44zM14.04 39.34H15.41V40.71H14.04zM43.94 39.34H45.31V40.71H43.94zM37.04 39.34H38.41V40.71H37.04zM23.24 39.34H24.61V40.71H23.24zM4.84 39.34H6.21V40.71H4.84zM27.84 39.34H29.21V40.71H27.84zM34.74 39.34H36.11V40.71H34.74zM16.34 39.34H17.71V40.71H16.34zM0.24 39.34H1.61V40.71H0.24zM7.14 39.34H8.51V40.71H7.14zM42.79 40.49H44.16V41.86H42.79zM10.59 40.49H11.96V41.86H10.59zM1.39 40.49H2.76V41.86H1.39zM33.59 40.49H34.96V41.86H33.59zM38.19 40.49H39.56V41.86H38.19zM19.79 40.49H21.16V41.86H19.79zM24.39 40.49H25.76V41.86H24.39zM5.99 40.49H7.36V41.86H5.99zM28.99 40.49H30.36V41.86H28.99zM15.19 40.49H16.56V41.86H15.19zM18.64 41.64H20.01V43.01H18.64zM25.54 41.64H26.91V43.01H25.54zM30.14 41.64H31.51V43.01H30.14zM9.44 41.64H10.81V43.01H9.44zM39.34 41.64H40.71V43.01H39.34zM43.94 41.64H45.31V43.01H43.94zM20.94 41.64H22.31V43.01H20.94zM37.04 41.64H38.41V43.01H37.04zM2.54 41.64H3.91V43.01H2.54zM27.84 41.64H29.21V43.01H27.84zM34.74 41.64H36.11V43.01H34.74zM11.74 41.64H13.11V43.01H11.74zM16.34 41.64H17.71V43.01H16.34zM0.24 41.64H1.61V43.01H0.24zM7.14 41.64H8.51V43.01H7.14zM0.00 42.79H0.46V44.16H0.00zM40.49 42.79H41.86V44.16H40.49zM17.49 42.79H18.86V44.16H17.49zM22.09 42.79H23.46V44.16H22.09zM31.29 42.79H32.66V44.16H31.29zM12.89 42.79H14.26V44.16H12.89zM35.89 42.79H37.26V44.16H35.89zM45.09 42.79H46.00V44.16H45.09zM26.69 42.79H28.06V44.16H26.69zM3.69 42.79H5.06V44.16H3.69zM8.29 42.79H9.66V44.16H8.29zM25.54 43.94H26.91V45.31H25.54zM30.14 43.94H31.51V45.31H30.14zM41.64 43.94H43.01V45.31H41.64zM32.44 43.94H33.81V45.31H32.44zM14.04 43.94H15.41V45.31H14.04zM39.34 43.94H40.71V45.31H39.34zM20.94 43.94H22.31V45.31H20.94zM43.94 43.94H45.31V45.31H43.94zM2.54 43.94H3.91V45.31H2.54zM23.24 43.94H24.61V45.31H23.24zM4.84 43.94H6.21V45.31H4.84zM34.74 43.94H36.11V45.31H34.74zM11.74 43.94H13.11V45.31H11.74zM16.34 43.94H17.71V45.31H16.34zM7.14 43.94H8.51V45.31H7.14zM42.79 45.09H44.16V46.00H42.79zM10.59 45.09H11.96V46.00H10.59zM1.39 45.09H2.76V46.00H1.39zM33.59 45.09H34.96V46.00H33.59zM38.19 45.09H39.56V46.00H38.19zM19.79 45.09H21.16V46.00H19.79zM24.39 45.09H25.76V46.00H24.39zM5.99 45.09H7.36V46.00H5.99zM28.99 45.09H30.36V46.00H28.99zM15.19 45.09H16.56V46.00H15.19z"/></pattern><pattern id="pShingle" patternUnits="userSpaceOnUse" x="0" y="0" width="46.000" height="46.000"><rect width="46.000" height="46.000" fill="#fff"/><path fill="#000" d="M35.58 0.00H36.98V0.62H35.58zM17.17 0.00H18.57V0.62H17.17zM0.00 0.00H0.18V0.62H0.00zM44.77 0.00H46.00V0.62H44.77zM7.97 0.00H9.37V0.62H7.97zM26.37 0.00H27.77V0.62H26.37zM27.52 0.38H28.92V2.92H27.52zM0.00 0.38H1.32V2.92H0.00zM9.12 0.38H10.52V2.92H9.12zM45.92 0.38H46.00V2.92H45.92zM36.73 0.38H38.12V2.92H36.73zM18.32 0.38H19.72V2.92H18.32zM0.00 2.67H1.32V4.07H0.00zM44.77 2.67H46.00V4.07H44.77zM26.37 2.67H28.92V4.07H26.37zM7.97 2.67H10.52V4.07H7.97zM35.58 2.67H38.12V4.07H35.58zM17.17 2.67H19.72V4.07H17.17zM10.27 3.82H11.67V5.22H10.27zM6.83 3.82H8.22V5.22H6.83zM19.47 3.82H20.87V5.22H19.47zM1.07 3.82H2.47V5.22H1.07zM34.42 3.82H35.83V5.22H34.42zM16.02 3.82H17.42V5.22H16.02zM37.88 3.82H39.27V5.22H37.88zM25.22 3.82H26.62V5.22H25.22zM43.62 3.82H45.02V5.22H43.62zM28.67 3.82H30.07V5.22H28.67zM5.67 4.97H7.08V6.38H5.67zM20.62 4.97H22.02V6.38H20.62zM11.42 4.97H12.82V6.38H11.42zM2.22 4.97H3.62V6.38H2.22zM42.48 4.97H43.88V6.38H42.48zM29.82 4.97H31.22V6.38H29.82zM24.07 4.97H25.47V6.38H24.07zM33.27 4.97H34.67V6.38H33.27zM14.87 4.97H16.27V6.38H14.87zM39.02 4.97H40.42V6.38H39.02zM12.57 6.12H15.12V7.52H12.57zM30.97 6.12H33.52V7.52H30.97zM40.17 6.12H42.73V7.52H40.17zM21.77 6.12H24.32V7.52H21.77zM3.38 6.12H5.92V7.52H3.38zM33.27 7.27H35.83V8.68H33.27zM14.87 7.27H17.42V8.68H14.87zM5.67 7.27H8.22V8.68H5.67zM42.48 7.27H45.02V8.68H42.48zM24.07 7.27H26.62V8.68H24.07zM35.58 8.43H36.98V9.82H35.58zM17.17 8.43H18.57V9.82H17.17zM0.00 8.43H0.18V9.82H0.00zM44.77 8.43H46.00V9.82H44.77zM7.97 8.43H9.37V9.82H7.97zM26.37 8.43H27.77V9.82H26.37zM27.52 9.57H28.92V12.12H27.52zM0.00 9.57H1.32V12.12H0.00zM9.12 9.57H10.52V12.12H9.12zM45.92 9.57H46.00V12.12H45.92zM36.73 9.57H38.12V12.12H36.73zM18.32 9.57H19.72V12.12H18.32zM0.00 11.88H1.32V13.27H0.00zM44.77 11.88H46.00V13.27H44.77zM26.37 11.88H28.92V13.27H26.37zM7.97 11.88H10.52V13.27H7.97zM35.58 11.88H38.12V13.27H35.58zM17.17 11.88H19.72V13.27H17.17zM10.27 13.02H11.67V14.43H10.27zM6.83 13.02H8.22V14.43H6.83zM19.47 13.02H20.87V14.43H19.47zM1.07 13.02H2.47V14.43H1.07zM34.42 13.02H35.83V14.43H34.42zM16.02 13.02H17.42V14.43H16.02zM37.88 13.02H39.27V14.43H37.88zM25.22 13.02H26.62V14.43H25.22zM43.62 13.02H45.02V14.43H43.62zM28.67 13.02H30.07V14.43H28.67zM5.67 14.18H7.08V15.57H5.67zM20.62 14.18H22.02V15.57H20.62zM11.42 14.18H12.82V15.57H11.42zM2.22 14.18H3.62V15.57H2.22zM42.48 14.18H43.88V15.57H42.48zM29.82 14.18H31.22V15.57H29.82zM24.07 14.18H25.47V15.57H24.07zM33.27 14.18H34.67V15.57H33.27zM14.87 14.18H16.27V15.57H14.87zM39.02 14.18H40.42V15.57H39.02zM12.57 15.32H15.12V16.72H12.57zM30.97 15.32H33.52V16.72H30.97zM40.17 15.32H42.73V16.72H40.17zM21.77 15.32H24.32V16.72H21.77zM3.38 15.32H5.92V16.72H3.38zM33.27 16.47H35.83V17.88H33.27zM14.87 16.47H17.42V17.88H14.87zM5.67 16.47H8.22V17.88H5.67zM42.48 16.47H45.02V17.88H42.48zM24.07 16.47H26.62V17.88H24.07zM35.58 17.62H36.98V19.02H35.58zM17.17 17.62H18.57V19.02H17.17zM0.00 17.62H0.18V19.02H0.00zM44.77 17.62H46.00V19.02H44.77zM7.97 17.62H9.37V19.02H7.97zM26.37 17.62H27.77V19.02H26.37zM27.52 18.77H28.92V21.32H27.52zM0.00 18.77H1.32V21.32H0.00zM9.12 18.77H10.52V21.32H9.12zM45.92 18.77H46.00V21.32H45.92zM36.73 18.77H38.12V21.32H36.73zM18.32 18.77H19.72V21.32H18.32zM0.00 21.07H1.32V22.47H0.00zM44.77 21.07H46.00V22.47H44.77zM26.37 21.07H28.92V22.47H26.37zM7.97 21.07H10.52V22.47H7.97zM35.58 21.07H38.12V22.47H35.58zM17.17 21.07H19.72V22.47H17.17zM10.27 22.22H11.67V23.62H10.27zM6.83 22.22H8.22V23.62H6.83zM19.47 22.22H20.87V23.62H19.47zM1.07 22.22H2.47V23.62H1.07zM34.42 22.22H35.83V23.62H34.42zM16.02 22.22H17.42V23.62H16.02zM37.88 22.22H39.27V23.62H37.88zM25.22 22.22H26.62V23.62H25.22zM43.62 22.22H45.02V23.62H43.62zM28.67 22.22H30.07V23.62H28.67zM5.67 23.38H7.08V24.77H5.67zM20.62 23.38H22.02V24.77H20.62zM11.42 23.38H12.82V24.77H11.42zM2.22 23.38H3.62V24.77H2.22zM42.48 23.38H43.88V24.77H42.48zM29.82 23.38H31.22V24.77H29.82zM24.07 23.38H25.47V24.77H24.07zM33.27 23.38H34.67V24.77H33.27zM14.87 23.38H16.27V24.77H14.87zM39.02 23.38H40.42V24.77H39.02zM12.57 24.52H15.12V25.93H12.57zM30.97 24.52H33.52V25.93H30.97zM40.17 24.52H42.73V25.93H40.17zM21.77 24.52H24.32V25.93H21.77zM3.38 24.52H5.92V25.93H3.38zM33.27 25.68H35.83V27.07H33.27zM14.87 25.68H17.42V27.07H14.87zM5.67 25.68H8.22V27.07H5.67zM42.48 25.68H45.02V27.07H42.48zM24.07 25.68H26.62V27.07H24.07zM35.58 26.82H36.98V28.22H35.58zM17.17 26.82H18.57V28.22H17.17zM0.00 26.82H0.18V28.22H0.00zM44.77 26.82H46.00V28.22H44.77zM7.97 26.82H9.37V28.22H7.97zM26.37 26.82H27.77V28.22H26.37zM27.52 27.97H28.92V30.52H27.52zM0.00 27.97H1.32V30.52H0.00zM9.12 27.97H10.52V30.52H9.12zM45.92 27.97H46.00V30.52H45.92zM36.73 27.97H38.12V30.52H36.73zM18.32 27.97H19.72V30.52H18.32zM0.00 30.27H1.32V31.67H0.00zM44.77 30.27H46.00V31.67H44.77zM26.37 30.27H28.92V31.67H26.37zM7.97 30.27H10.52V31.67H7.97zM35.58 30.27H38.12V31.67H35.58zM17.17 30.27H19.72V31.67H17.17zM10.27 31.42H11.67V32.82H10.27zM6.83 31.42H8.22V32.82H6.83zM19.47 31.42H20.87V32.82H19.47zM1.07 31.42H2.47V32.82H1.07zM34.42 31.42H35.83V32.82H34.42zM16.02 31.42H17.42V32.82H16.02zM37.88 31.42H39.27V32.82H37.88zM25.22 31.42H26.62V32.82H25.22zM43.62 31.42H45.02V32.82H43.62zM28.67 31.42H30.07V32.82H28.67zM5.67 32.57H7.08V33.97H5.67zM20.62 32.57H22.02V33.97H20.62zM11.42 32.57H12.82V33.97H11.42zM2.22 32.57H3.62V33.97H2.22zM42.48 32.57H43.88V33.97H42.48zM29.82 32.57H31.22V33.97H29.82zM24.07 32.57H25.47V33.97H24.07zM33.27 32.57H34.67V33.97H33.27zM14.87 32.57H16.27V33.97H14.87zM39.02 32.57H40.42V33.97H39.02zM12.57 33.72H15.12V35.12H12.57zM30.97 33.72H33.52V35.12H30.97zM40.17 33.72H42.73V35.12H40.17zM21.77 33.72H24.32V35.12H21.77zM3.38 33.72H5.92V35.12H3.38zM33.27 34.87H35.83V36.27H33.27zM14.87 34.87H17.42V36.27H14.87zM5.67 34.87H8.22V36.27H5.67zM42.48 34.87H45.02V36.27H42.48zM24.07 34.87H26.62V36.27H24.07zM35.58 36.02H36.98V37.42H35.58zM17.17 36.02H18.57V37.42H17.17zM0.00 36.02H0.18V37.42H0.00zM44.77 36.02H46.00V37.42H44.77zM7.97 36.02H9.37V37.42H7.97zM26.37 36.02H27.77V37.42H26.37zM27.52 37.17H28.92V39.72H27.52zM0.00 37.17H1.32V39.72H0.00zM9.12 37.17H10.52V39.72H9.12zM45.92 37.17H46.00V39.72H45.92zM36.73 37.17H38.12V39.72H36.73zM18.32 37.17H19.72V39.72H18.32zM0.00 39.47H1.32V40.87H0.00zM44.77 39.47H46.00V40.87H44.77zM26.37 39.47H28.92V40.87H26.37zM7.97 39.47H10.52V40.87H7.97zM35.58 39.47H38.12V40.87H35.58zM17.17 39.47H19.72V40.87H17.17zM10.27 40.62H11.67V42.02H10.27zM6.83 40.62H8.22V42.02H6.83zM19.47 40.62H20.87V42.02H19.47zM1.07 40.62H2.47V42.02H1.07zM34.42 40.62H35.83V42.02H34.42zM16.02 40.62H17.42V42.02H16.02zM37.88 40.62H39.27V42.02H37.88zM25.22 40.62H26.62V42.02H25.22zM43.62 40.62H45.02V42.02H43.62zM28.67 40.62H30.07V42.02H28.67zM5.67 41.77H7.08V43.17H5.67zM20.62 41.77H22.02V43.17H20.62zM11.42 41.77H12.82V43.17H11.42zM2.22 41.77H3.62V43.17H2.22zM42.48 41.77H43.88V43.17H42.48zM29.82 41.77H31.22V43.17H29.82zM24.07 41.77H25.47V43.17H24.07zM33.27 41.77H34.67V43.17H33.27zM14.87 41.77H16.27V43.17H14.87zM39.02 41.77H40.42V43.17H39.02zM12.57 42.92H15.12V44.32H12.57zM30.97 42.92H33.52V44.32H30.97zM40.17 42.92H42.73V44.32H40.17zM21.77 42.92H24.32V44.32H21.77zM3.38 42.92H5.92V44.32H3.38zM33.27 44.07H35.83V45.47H33.27zM14.87 44.07H17.42V45.47H14.87zM5.67 44.07H8.22V45.47H5.67zM42.48 44.07H45.02V45.47H42.48zM24.07 44.07H26.62V45.47H24.07zM35.58 45.22H36.98V46.00H35.58zM17.17 45.22H18.57V46.00H17.17zM0.00 45.22H0.18V46.00H0.00zM44.77 45.22H46.00V46.00H44.77zM7.97 45.22H9.37V46.00H7.97zM26.37 45.22H27.77V46.00H26.37z"/></pattern><pattern id="pShingleC" patternUnits="userSpaceOnUse" x="0" y="0" width="46.000" height="46.000"><rect width="46.000" height="46.000" fill="#fff"/><path fill="#000" d="M37.88 0.00H40.43V0.27H37.88zM19.48 0.00H22.03V0.27H19.48zM1.08 0.00H3.63V0.27H1.08zM28.68 0.00H31.23V0.27H28.68zM10.28 0.00H12.83V0.27H10.28zM40.18 0.02H41.58V1.43H40.18zM21.78 0.02H23.18V1.43H21.78zM30.98 0.02H32.38V1.43H30.98zM12.58 0.02H13.98V1.43H12.58zM3.38 0.02H4.78V1.43H3.38zM41.33 1.18H42.73V3.73H41.33zM32.12 1.18H33.53V3.73H32.12zM13.73 1.18H15.13V3.73H13.73zM22.93 1.18H24.33V3.73H22.93zM4.53 1.18H5.93V3.73H4.53zM30.98 3.48H33.53V4.88H30.98zM40.18 3.48H42.73V4.88H40.18zM12.58 3.48H15.13V4.88H12.58zM3.38 3.48H5.93V4.88H3.38zM21.78 3.48H24.33V4.88H21.78zM29.83 4.62H31.23V6.02H29.83zM42.48 4.62H43.88V6.02H42.48zM39.02 4.62H40.43V6.02H39.02zM20.63 4.62H22.03V6.02H20.63zM2.23 4.62H3.63V6.02H2.23zM33.28 4.62H34.68V6.02H33.28zM24.08 4.62H25.48V6.02H24.08zM11.43 4.62H12.83V6.02H11.43zM5.68 4.62H7.08V6.02H5.68zM14.88 4.62H16.28V6.02H14.88zM25.23 5.77H26.63V7.18H25.23zM43.62 5.77H45.02V7.18H43.62zM10.28 5.77H11.68V7.18H10.28zM1.08 5.77H2.48V7.18H1.08zM28.68 5.77H30.08V7.18H28.68zM37.88 5.77H39.27V7.18H37.88zM19.48 5.77H20.88V7.18H19.48zM34.43 5.77H35.83V7.18H34.43zM16.03 5.77H17.43V7.18H16.03zM6.83 5.77H8.23V7.18H6.83zM35.58 6.93H38.12V8.33H35.58zM7.98 6.93H10.53V8.33H7.98zM44.77 6.93H46.00V8.33H44.77zM26.38 6.93H28.93V8.33H26.38zM17.18 6.93H19.73V8.33H17.18zM0.00 6.93H1.33V8.33H0.00zM37.88 8.08H40.43V9.48H37.88zM19.48 8.08H22.03V9.48H19.48zM1.08 8.08H3.63V9.48H1.08zM28.68 8.08H31.23V9.48H28.68zM10.28 8.08H12.83V9.48H10.28zM40.18 9.23H41.58V10.62H40.18zM21.78 9.23H23.18V10.62H21.78zM30.98 9.23H32.38V10.62H30.98zM12.58 9.23H13.98V10.62H12.58zM3.38 9.23H4.78V10.62H3.38zM41.33 10.38H42.73V12.93H41.33zM32.12 10.38H33.53V12.93H32.12zM13.73 10.38H15.13V12.93H13.73zM22.93 10.38H24.33V12.93H22.93zM4.53 10.38H5.93V12.93H4.53zM30.98 12.68H33.53V14.07H30.98zM40.18 12.68H42.73V14.07H40.18zM12.58 12.68H15.13V14.07H12.58zM3.38 12.68H5.93V14.07H3.38zM21.78 12.68H24.33V14.07H21.78zM29.83 13.82H31.23V15.23H29.83zM42.48 13.82H43.88V15.23H42.48zM39.02 13.82H40.43V15.23H39.02zM20.63 13.82H22.03V15.23H20.63zM2.23 13.82H3.63V15.23H2.23zM33.28 13.82H34.68V15.23H33.28zM24.08 13.82H25.48V15.23H24.08zM11.43 13.82H12.83V15.23H11.43zM5.68 13.82H7.08V15.23H5.68zM14.88 13.82H16.28V15.23H14.88zM25.23 14.98H26.63V16.38H25.23zM43.62 14.98H45.02V16.38H43.62zM10.28 14.98H11.68V16.38H10.28zM1.08 14.98H2.48V16.38H1.08zM28.68 14.98H30.08V16.38H28.68zM37.88 14.98H39.27V16.38H37.88zM19.48 14.98H20.88V16.38H19.48zM34.43 14.98H35.83V16.38H34.43zM16.03 14.98H17.43V16.38H16.03zM6.83 14.98H8.23V16.38H6.83zM35.58 16.12H38.12V17.52H35.58zM7.98 16.12H10.53V17.52H7.98zM44.77 16.12H46.00V17.52H44.77zM26.38 16.12H28.93V17.52H26.38zM17.18 16.12H19.73V17.52H17.18zM0.00 16.12H1.33V17.52H0.00zM37.88 17.27H40.43V18.68H37.88zM19.48 17.27H22.03V18.68H19.48zM1.08 17.27H3.63V18.68H1.08zM28.68 17.27H31.23V18.68H28.68zM10.28 17.27H12.83V18.68H10.28zM40.18 18.43H41.58V19.82H40.18zM21.78 18.43H23.18V19.82H21.78zM30.98 18.43H32.38V19.82H30.98zM12.58 18.43H13.98V19.82H12.58zM3.38 18.43H4.78V19.82H3.38zM41.33 19.57H42.73V22.12H41.33zM32.12 19.57H33.53V22.12H32.12zM13.73 19.57H15.13V22.12H13.73zM22.93 19.57H24.33V22.12H22.93zM4.53 19.57H5.93V22.12H4.53zM30.98 21.88H33.53V23.27H30.98zM40.18 21.88H42.73V23.27H40.18zM12.58 21.88H15.13V23.27H12.58zM3.38 21.88H5.93V23.27H3.38zM21.78 21.88H24.33V23.27H21.78zM29.83 23.02H31.23V24.43H29.83zM42.48 23.02H43.88V24.43H42.48zM39.02 23.02H40.43V24.43H39.02zM20.63 23.02H22.03V24.43H20.63zM2.23 23.02H3.63V24.43H2.23zM33.28 23.02H34.68V24.43H33.28zM24.08 23.02H25.48V24.43H24.08zM11.43 23.02H12.83V24.43H11.43zM5.68 23.02H7.08V24.43H5.68zM14.88 23.02H16.28V24.43H14.88zM25.23 24.18H26.63V25.57H25.23zM43.62 24.18H45.02V25.57H43.62zM10.28 24.18H11.68V25.57H10.28zM1.08 24.18H2.48V25.57H1.08zM28.68 24.18H30.08V25.57H28.68zM37.88 24.18H39.27V25.57H37.88zM19.48 24.18H20.88V25.57H19.48zM34.43 24.18H35.83V25.57H34.43zM16.03 24.18H17.43V25.57H16.03zM6.83 24.18H8.23V25.57H6.83zM35.58 25.32H38.12V26.73H35.58zM7.98 25.32H10.53V26.73H7.98zM44.77 25.32H46.00V26.73H44.77zM26.38 25.32H28.93V26.73H26.38zM17.18 25.32H19.73V26.73H17.18zM0.00 25.32H1.33V26.73H0.00zM37.88 26.48H40.43V27.88H37.88zM19.48 26.48H22.03V27.88H19.48zM1.08 26.48H3.63V27.88H1.08zM28.68 26.48H31.23V27.88H28.68zM10.28 26.48H12.83V27.88H10.28zM40.18 27.62H41.58V29.02H40.18zM21.78 27.62H23.18V29.02H21.78zM30.98 27.62H32.38V29.02H30.98zM12.58 27.62H13.98V29.02H12.58zM3.38 27.62H4.78V29.02H3.38zM41.33 28.77H42.73V31.32H41.33zM32.12 28.77H33.53V31.32H32.12zM13.73 28.77H15.13V31.32H13.73zM22.93 28.77H24.33V31.32H22.93zM4.53 28.77H5.93V31.32H4.53zM30.98 31.07H33.53V32.48H30.98zM40.18 31.07H42.73V32.48H40.18zM12.58 31.07H15.13V32.48H12.58zM3.38 31.07H5.93V32.48H3.38zM21.78 31.07H24.33V32.48H21.78zM29.83 32.23H31.23V33.62H29.83zM42.48 32.23H43.88V33.62H42.48zM39.02 32.23H40.43V33.62H39.02zM20.63 32.23H22.03V33.62H20.63zM2.23 32.23H3.63V33.62H2.23zM33.28 32.23H34.68V33.62H33.28zM24.08 32.23H25.48V33.62H24.08zM11.43 32.23H12.83V33.62H11.43zM5.68 32.23H7.08V33.62H5.68zM14.88 32.23H16.28V33.62H14.88zM25.23 33.38H26.63V34.77H25.23zM43.62 33.38H45.02V34.77H43.62zM10.28 33.38H11.68V34.77H10.28zM1.08 33.38H2.48V34.77H1.08zM28.68 33.38H30.08V34.77H28.68zM37.88 33.38H39.27V34.77H37.88zM19.48 33.38H20.88V34.77H19.48zM34.43 33.38H35.83V34.77H34.43zM16.03 33.38H17.43V34.77H16.03zM6.83 33.38H8.23V34.77H6.83zM35.58 34.52H38.12V35.92H35.58zM7.98 34.52H10.53V35.92H7.98zM44.77 34.52H46.00V35.92H44.77zM26.38 34.52H28.93V35.92H26.38zM17.18 34.52H19.73V35.92H17.18zM0.00 34.52H1.33V35.92H0.00zM37.88 35.67H40.43V37.07H37.88zM19.48 35.67H22.03V37.07H19.48zM1.08 35.67H3.63V37.07H1.08zM28.68 35.67H31.23V37.07H28.68zM10.28 35.67H12.83V37.07H10.28zM40.18 36.82H41.58V38.23H40.18zM21.78 36.82H23.18V38.23H21.78zM30.98 36.82H32.38V38.23H30.98zM12.58 36.82H13.98V38.23H12.58zM3.38 36.82H4.78V38.23H3.38zM41.33 37.98H42.73V40.52H41.33zM32.12 37.98H33.53V40.52H32.12zM13.73 37.98H15.13V40.52H13.73zM22.93 37.98H24.33V40.52H22.93zM4.53 37.98H5.93V40.52H4.53zM30.98 40.27H33.53V41.67H30.98zM40.18 40.27H42.73V41.67H40.18zM12.58 40.27H15.13V41.67H12.58zM3.38 40.27H5.93V41.67H3.38zM21.78 40.27H24.33V41.67H21.78zM29.83 41.42H31.23V42.82H29.83zM42.48 41.42H43.88V42.82H42.48zM39.02 41.42H40.43V42.82H39.02zM20.63 41.42H22.03V42.82H20.63zM2.23 41.42H3.63V42.82H2.23zM33.28 41.42H34.68V42.82H33.28zM24.08 41.42H25.48V42.82H24.08zM11.43 41.42H12.83V42.82H11.43zM5.68 41.42H7.08V42.82H5.68zM14.88 41.42H16.28V42.82H14.88zM25.23 42.57H26.63V43.98H25.23zM43.62 42.57H45.02V43.98H43.62zM10.28 42.57H11.68V43.98H10.28zM1.08 42.57H2.48V43.98H1.08zM28.68 42.57H30.08V43.98H28.68zM37.88 42.57H39.27V43.98H37.88zM19.48 42.57H20.88V43.98H19.48zM34.43 42.57H35.83V43.98H34.43zM16.03 42.57H17.43V43.98H16.03zM6.83 42.57H8.23V43.98H6.83zM35.58 43.73H38.12V45.12H35.58zM7.98 43.73H10.53V45.12H7.98zM44.77 43.73H46.00V45.12H44.77zM26.38 43.73H28.93V45.12H26.38zM17.18 43.73H19.73V45.12H17.18zM0.00 43.73H1.33V45.12H0.00zM37.88 44.88H40.43V46.00H37.88zM19.48 44.88H22.03V46.00H19.48zM1.08 44.88H3.63V46.00H1.08zM28.68 44.88H31.23V46.00H28.68zM10.28 44.88H12.83V46.00H10.28z"/></pattern><pattern id="pDic" patternUnits="userSpaceOnUse" x="0" y="0" width="46" height="46"><rect width="46" height="46" fill="#fff"/><path d="M-5.00 -4.40L51.00 -60.40M-5.00 0.20L51.00 -55.80M-5.00 4.80L51.00 -51.20M-5.00 9.40L51.00 -46.60M-5.00 14.00L51.00 -42.00M-5.00 18.60L51.00 -37.40M-5.00 23.20L51.00 -32.80M-5.00 27.80L51.00 -28.20M-5.00 32.40L51.00 -23.60M-5.00 37.00L51.00 -19.00M-5.00 41.60L51.00 -14.40M-5.00 46.20L51.00 -9.80M-5.00 50.80L51.00 -5.20M-5.00 55.40L51.00 -0.60M-5.00 60.00L51.00 4.00M-5.00 64.60L51.00 8.60M-5.00 69.20L51.00 13.20M-5.00 73.80L51.00 17.80M-5.00 78.40L51.00 22.40M-5.00 83.00L51.00 27.00M-5.00 87.60L51.00 31.60M-5.00 92.20L51.00 36.20M-5.00 96.80L51.00 40.80M-5.00 101.40L51.00 45.40M-5.00 106.00L51.00 50.00M-5.00 110.60L51.00 54.60" stroke="#000" stroke-width="1.691" fill="none"/></pattern><pattern id="pDiam" patternUnits="userSpaceOnUse" x="0" y="0" width="46" height="46"><rect width="46" height="46" fill="#000"/><path fill="#fff" d="M-4.00 -9.90L0.60 -5.30L-4.00 -0.70L-8.60 -5.30zM-4.00 -0.70L0.60 3.90L-4.00 8.50L-8.60 3.90zM-4.00 8.50L0.60 13.10L-4.00 17.70L-8.60 13.10zM-4.00 17.70L0.60 22.30L-4.00 26.90L-8.60 22.30zM-4.00 26.90L0.60 31.50L-4.00 36.10L-8.60 31.50zM-4.00 36.10L0.60 40.70L-4.00 45.30L-8.60 40.70zM-4.00 45.30L0.60 49.90L-4.00 54.50L-8.60 49.90zM-4.00 54.50L0.60 59.10L-4.00 63.70L-8.60 59.10zM5.20 -9.90L9.80 -5.30L5.20 -0.70L0.60 -5.30zM5.20 -0.70L9.80 3.90L5.20 8.50L0.60 3.90zM5.20 8.50L9.80 13.10L5.20 17.70L0.60 13.10zM5.20 17.70L9.80 22.30L5.20 26.90L0.60 22.30zM5.20 26.90L9.80 31.50L5.20 36.10L0.60 31.50zM5.20 36.10L9.80 40.70L5.20 45.30L0.60 40.70zM5.20 45.30L9.80 49.90L5.20 54.50L0.60 49.90zM5.20 54.50L9.80 59.10L5.20 63.70L0.60 59.10zM14.40 -9.90L19.00 -5.30L14.40 -0.70L9.80 -5.30zM14.40 -0.70L19.00 3.90L14.40 8.50L9.80 3.90zM14.40 8.50L19.00 13.10L14.40 17.70L9.80 13.10zM14.40 17.70L19.00 22.30L14.40 26.90L9.80 22.30zM14.40 26.90L19.00 31.50L14.40 36.10L9.80 31.50zM14.40 36.10L19.00 40.70L14.40 45.30L9.80 40.70zM14.40 45.30L19.00 49.90L14.40 54.50L9.80 49.90zM14.40 54.50L19.00 59.10L14.40 63.70L9.80 59.10zM23.60 -9.90L28.20 -5.30L23.60 -0.70L19.00 -5.30zM23.60 -0.70L28.20 3.90L23.60 8.50L19.00 3.90zM23.60 8.50L28.20 13.10L23.60 17.70L19.00 13.10zM23.60 17.70L28.20 22.30L23.60 26.90L19.00 22.30zM23.60 26.90L28.20 31.50L23.60 36.10L19.00 31.50zM23.60 36.10L28.20 40.70L23.60 45.30L19.00 40.70zM23.60 45.30L28.20 49.90L23.60 54.50L19.00 49.90zM23.60 54.50L28.20 59.10L23.60 63.70L19.00 59.10zM32.80 -9.90L37.40 -5.30L32.80 -0.70L28.20 -5.30zM32.80 -0.70L37.40 3.90L32.80 8.50L28.20 3.90zM32.80 8.50L37.40 13.10L32.80 17.70L28.20 13.10zM32.80 17.70L37.40 22.30L32.80 26.90L28.20 22.30zM32.80 26.90L37.40 31.50L32.80 36.10L28.20 31.50zM32.80 36.10L37.40 40.70L32.80 45.30L28.20 40.70zM32.80 45.30L37.40 49.90L32.80 54.50L28.20 49.90zM32.80 54.50L37.40 59.10L32.80 63.70L28.20 59.10zM42.00 -9.90L46.60 -5.30L42.00 -0.70L37.40 -5.30zM42.00 -0.70L46.60 3.90L42.00 8.50L37.40 3.90zM42.00 8.50L46.60 13.10L42.00 17.70L37.40 13.10zM42.00 17.70L46.60 22.30L42.00 26.90L37.40 22.30zM42.00 26.90L46.60 31.50L42.00 36.10L37.40 31.50zM42.00 36.10L46.60 40.70L42.00 45.30L37.40 40.70zM42.00 45.30L46.60 49.90L42.00 54.50L37.40 49.90zM42.00 54.50L46.60 59.10L42.00 63.70L37.40 59.10zM51.20 -9.90L55.80 -5.30L51.20 -0.70L46.60 -5.30zM51.20 -0.70L55.80 3.90L51.20 8.50L46.60 3.90zM51.20 8.50L55.80 13.10L51.20 17.70L46.60 13.10zM51.20 17.70L55.80 22.30L51.20 26.90L46.60 22.30zM51.20 26.90L55.80 31.50L51.20 36.10L46.60 31.50zM51.20 36.10L55.80 40.70L51.20 45.30L46.60 40.70zM51.20 45.30L55.80 49.90L51.20 54.50L46.60 49.90zM51.20 54.50L55.80 59.10L51.20 63.70L46.60 59.10zM60.40 -9.90L65.00 -5.30L60.40 -0.70L55.80 -5.30zM60.40 -0.70L65.00 3.90L60.40 8.50L55.80 3.90zM60.40 8.50L65.00 13.10L60.40 17.70L55.80 13.10zM60.40 17.70L65.00 22.30L60.40 26.90L55.80 22.30zM60.40 26.90L65.00 31.50L60.40 36.10L55.80 31.50zM60.40 36.10L65.00 40.70L60.40 45.30L55.80 40.70zM60.40 45.30L65.00 49.90L60.40 54.50L55.80 49.90zM60.40 54.50L65.00 59.10L60.40 63.70L55.80 59.10z"/></pattern><pattern id="pBrick" patternUnits="userSpaceOnUse" x="0" y="0" width="46.000" height="46.000"><rect width="46.000" height="46.000" fill="#fff"/><path fill="#000" d="M0.00 0.00H46.00V0.20H0.00zM10.15 0.05H11.45V3.65H10.15zM28.55 0.05H29.85V3.65H28.55zM37.75 0.05H39.05V3.65H37.75zM19.35 0.05H20.65V3.65H19.35zM0.95 0.05H2.25V3.65H0.95zM0.00 3.50H46.00V4.80H0.00zM14.75 4.65H16.05V8.25H14.75zM23.95 4.65H25.25V8.25H23.95zM5.55 4.65H6.85V8.25H5.55zM42.35 4.65H43.65V8.25H42.35zM33.15 4.65H34.45V8.25H33.15zM0.00 8.10H46.00V9.40H0.00zM10.15 9.25H11.45V12.85H10.15zM28.55 9.25H29.85V12.85H28.55zM37.75 9.25H39.05V12.85H37.75zM19.35 9.25H20.65V12.85H19.35zM0.95 9.25H2.25V12.85H0.95zM0.00 12.70H46.00V14.00H0.00zM14.75 13.85H16.05V17.45H14.75zM23.95 13.85H25.25V17.45H23.95zM5.55 13.85H6.85V17.45H5.55zM42.35 13.85H43.65V17.45H42.35zM33.15 13.85H34.45V17.45H33.15zM0.00 17.30H46.00V18.60H0.00zM10.15 18.45H11.45V22.05H10.15zM28.55 18.45H29.85V22.05H28.55zM37.75 18.45H39.05V22.05H37.75zM19.35 18.45H20.65V22.05H19.35zM0.95 18.45H2.25V22.05H0.95zM0.00 21.90H46.00V23.20H0.00zM14.75 23.05H16.05V26.65H14.75zM23.95 23.05H25.25V26.65H23.95zM5.55 23.05H6.85V26.65H5.55zM42.35 23.05H43.65V26.65H42.35zM33.15 23.05H34.45V26.65H33.15zM0.00 26.50H46.00V27.80H0.00zM10.15 27.65H11.45V31.25H10.15zM28.55 27.65H29.85V31.25H28.55zM37.75 27.65H39.05V31.25H37.75zM19.35 27.65H20.65V31.25H19.35zM0.95 27.65H2.25V31.25H0.95zM0.00 31.10H46.00V32.40H0.00zM14.75 32.25H16.05V35.85H14.75zM23.95 32.25H25.25V35.85H23.95zM5.55 32.25H6.85V35.85H5.55zM42.35 32.25H43.65V35.85H42.35zM33.15 32.25H34.45V35.85H33.15zM0.00 35.70H46.00V37.00H0.00zM10.15 36.85H11.45V40.45H10.15zM28.55 36.85H29.85V40.45H28.55zM37.75 36.85H39.05V40.45H37.75zM19.35 36.85H20.65V40.45H19.35zM0.95 36.85H2.25V40.45H0.95zM0.00 40.30H46.00V41.60H0.00zM14.75 41.45H16.05V45.05H14.75zM23.95 41.45H25.25V45.05H23.95zM5.55 41.45H6.85V45.05H5.55zM42.35 41.45H43.65V45.05H42.35zM33.15 41.45H34.45V45.05H33.15zM0.00 44.90H46.00V46.00H0.00z"/></pattern></defs>
<rect width="520" height="870" fill="#fff"/>
<rect x="22.1" y="0" width="1" height="870" fill="#f6f6f6"/>
<text x="1.08" y="12.69" font-size="21.442" style="" fill="#000" textLength="10.82" lengthAdjust="spacingAndGlyphs">a</text>
<line x1="51.6" y1="17.4" x2="51.6" y2="222.5" stroke="#1a1a1a" stroke-width="1.3"/>
<line x1="48.2" y1="17.9" x2="51.6" y2="17.9" stroke="#1a1a1a" stroke-width="1.3"/>
<text x="23.41" y="22.20" font-size="12.2" style="" fill="#000">160</text>
<line x1="48.2" y1="42.91" x2="51.6" y2="42.91" stroke="#1a1a1a" stroke-width="1.3"/>
<text x="23.41" y="47.21" font-size="12.2" style="" fill="#000">140</text>
<line x1="48.2" y1="67.92" x2="51.6" y2="67.92" stroke="#1a1a1a" stroke-width="1.3"/>
<text x="23.41" y="72.22" font-size="12.2" style="" fill="#000">120</text>
<line x1="48.2" y1="92.93" x2="51.6" y2="92.93" stroke="#1a1a1a" stroke-width="1.3"/>
<text x="23.41" y="97.23" font-size="12.2" style="" fill="#000">100</text>
<line x1="48.2" y1="117.94" x2="51.6" y2="117.94" stroke="#1a1a1a" stroke-width="1.3"/>
<text x="30.20" y="122.24" font-size="12.2" style="" fill="#000">80</text>
<line x1="48.2" y1="142.95000000000002" x2="51.6" y2="142.95000000000002" stroke="#1a1a1a" stroke-width="1.3"/>
<text x="30.20" y="147.25" font-size="12.2" style="" fill="#000">60</text>
<line x1="48.2" y1="167.96" x2="51.6" y2="167.96" stroke="#1a1a1a" stroke-width="1.3"/>
<text x="30.20" y="172.26" font-size="12.2" style="" fill="#000">40</text>
<line x1="48.2" y1="192.97000000000003" x2="51.6" y2="192.97000000000003" stroke="#1a1a1a" stroke-width="1.3"/>
<text x="30.20" y="197.27" font-size="12.2" style="" fill="#000">20</text>
<line x1="48.2" y1="217.98000000000002" x2="51.6" y2="217.98000000000002" stroke="#1a1a1a" stroke-width="1.3"/>
<text x="36.98" y="222.28" font-size="12.2" style="" fill="#000">0</text>
<line x1="51" y1="218" x2="431.5" y2="218" stroke="#1a1a1a" stroke-width="1.3"/>
<rect x="89.40" y="38.20" width="52.40" height="179.80" fill="url(#pC)" stroke="#000" stroke-width="1.0"/>
<rect x="142.3" y="129.8" width="50.70" height="88.20" fill="url(#pPa)"/>
<rect x="193.40" y="42.60" width="51.10" height="175.40" fill="url(#pPb)" stroke="#000" stroke-width="1.0"/>
<rect x="245.00" y="108.30" width="50.90" height="109.70" fill="url(#pWeave)" stroke="#000" stroke-width="1.0"/>
<rect x="296.70" y="45.40" width="51.00" height="172.60" fill="url(#pChb)" stroke="#000" stroke-width="1.0"/>
<rect x="348.20" y="127.70" width="50.10" height="90.30" fill="url(#pShingle)" stroke="#000" stroke-width="1.0"/>
<line x1="116.3" y1="30.3" x2="116.3" y2="50.5" stroke="#000" stroke-width="1.4"/>
<line x1="112.8" y1="30.3" x2="119.8" y2="30.3" stroke="#000" stroke-width="1.4"/>
<line x1="112.8" y1="50.5" x2="119.8" y2="50.5" stroke="#000" stroke-width="1.4"/>
<line x1="167.7" y1="126.9" x2="167.7" y2="135.6" stroke="#000" stroke-width="1.4"/>
<line x1="164.2" y1="126.9" x2="171.2" y2="126.9" stroke="#000" stroke-width="1.4"/>
<line x1="164.2" y1="135.6" x2="171.2" y2="135.6" stroke="#000" stroke-width="1.4"/>
<line x1="219.5" y1="33.5" x2="219.5" y2="51" stroke="#000" stroke-width="1.4"/>
<line x1="216.0" y1="33.5" x2="223.0" y2="33.5" stroke="#000" stroke-width="1.4"/>
<line x1="216.0" y1="51" x2="223.0" y2="51" stroke="#000" stroke-width="1.4"/>
<line x1="270.8" y1="102.9" x2="270.8" y2="113.5" stroke="#000" stroke-width="1.4"/>
<line x1="267.3" y1="102.9" x2="274.3" y2="102.9" stroke="#000" stroke-width="1.4"/>
<line x1="267.3" y1="113.5" x2="274.3" y2="113.5" stroke="#000" stroke-width="1.4"/>
<line x1="322.3" y1="37.2" x2="322.3" y2="53" stroke="#000" stroke-width="1.4"/>
<line x1="318.8" y1="37.2" x2="325.8" y2="37.2" stroke="#000" stroke-width="1.4"/>
<line x1="318.8" y1="53" x2="325.8" y2="53" stroke="#000" stroke-width="1.4"/>
<line x1="373.6" y1="123.6" x2="373.6" y2="132" stroke="#000" stroke-width="1.4"/>
<line x1="370.1" y1="123.6" x2="377.1" y2="123.6" stroke="#000" stroke-width="1.4"/>
<line x1="370.1" y1="132" x2="377.1" y2="132" stroke="#000" stroke-width="1.4"/>
<text x="162.61" y="124.28" font-size="13.636" style="" fill="#000" textLength="4.59" lengthAdjust="spacingAndGlyphs">*</text>
<text x="265.99" y="101.57" font-size="14.205" style="" fill="#000" textLength="5.03" lengthAdjust="spacingAndGlyphs">*</text>
<text x="368.71" y="124.28" font-size="13.636" style="" fill="#000" textLength="4.70" lengthAdjust="spacingAndGlyphs">*</text>
<text x="111.27" y="237.40" font-size="12.7" style="" fill="#000" textLength="9.11" lengthAdjust="spacingAndGlyphs">C</text>
<text x="157.72" y="236.20" font-size="12.7" style="" fill="#000" textLength="16.07" lengthAdjust="spacingAndGlyphs">Pa</text>
<text x="210.15" y="236.10" font-size="12.7" style="" fill="#000" textLength="15.68" lengthAdjust="spacingAndGlyphs">Pb</text>
<text x="263.21" y="236.10" font-size="12.7" style="" fill="#000" textLength="21.59" lengthAdjust="spacingAndGlyphs">Cha</text>
<text x="312.86" y="236.10" font-size="12.7" style="" fill="#000" textLength="23.48" lengthAdjust="spacingAndGlyphs">Chb</text>
<text x="370.82" y="235.80" font-size="12.7" style="" fill="#000" textLength="13.15" lengthAdjust="spacingAndGlyphs">Df</text>
<text x="182.35" y="258.30" font-size="16" style="font-style:italic;" fill="#000" textLength="103.33" lengthAdjust="spacingAndGlyphs">Streblus asper</text>
<text x="-176.19" y="0.00" font-size="16" style="" fill="#000" textLength="130.32" lengthAdjust="spacingAndGlyphs" transform="translate(13.8,0) rotate(-90)">Inflammation (mg)</text>
<text x="0.51" y="297.50" font-size="20.163" style="" fill="#000" textLength="12.11" lengthAdjust="spacingAndGlyphs">b</text>
<line x1="51.5" y1="295.5" x2="51.5" y2="493.5" stroke="#1a1a1a" stroke-width="1.3"/>
<line x1="48" y1="296.1" x2="51.5" y2="296.1" stroke="#1a1a1a" stroke-width="1.3"/>
<text x="23.85" y="299.80" font-size="12.3" style="" fill="#000">160</text>
<line x1="48" y1="320.09000000000003" x2="51.5" y2="320.09000000000003" stroke="#1a1a1a" stroke-width="1.3"/>
<text x="23.85" y="323.79" font-size="12.3" style="" fill="#000">140</text>
<line x1="48" y1="344.08000000000004" x2="51.5" y2="344.08000000000004" stroke="#1a1a1a" stroke-width="1.3"/>
<text x="23.85" y="347.78" font-size="12.3" style="" fill="#000">120</text>
<line x1="48" y1="368.07000000000005" x2="51.5" y2="368.07000000000005" stroke="#1a1a1a" stroke-width="1.3"/>
<text x="23.85" y="371.77" font-size="12.3" style="" fill="#000">100</text>
<line x1="48" y1="392.06" x2="51.5" y2="392.06" stroke="#1a1a1a" stroke-width="1.3"/>
<text x="30.69" y="395.76" font-size="12.3" style="" fill="#000">80</text>
<line x1="48" y1="416.05" x2="51.5" y2="416.05" stroke="#1a1a1a" stroke-width="1.3"/>
<text x="30.69" y="419.75" font-size="12.3" style="" fill="#000">60</text>
<line x1="48" y1="440.04" x2="51.5" y2="440.04" stroke="#1a1a1a" stroke-width="1.3"/>
<text x="30.69" y="443.74" font-size="12.3" style="" fill="#000">40</text>
<line x1="48" y1="464.03" x2="51.5" y2="464.03" stroke="#1a1a1a" stroke-width="1.3"/>
<text x="30.69" y="467.73" font-size="12.3" style="" fill="#000">20</text>
<line x1="48" y1="488.02" x2="51.5" y2="488.02" stroke="#1a1a1a" stroke-width="1.3"/>
<text x="37.53" y="491.72" font-size="12.3" style="" fill="#000">0</text>
<line x1="51" y1="488" x2="351.6" y2="488" stroke="#1a1a1a" stroke-width="1.3"/>
<line x1="152" y1="488" x2="152" y2="493.5" stroke="#1a1a1a" stroke-width="1.3"/>
<line x1="251.5" y1="488" x2="251.5" y2="493.5" stroke="#1a1a1a" stroke-width="1.3"/>
<line x1="351" y1="488" x2="351" y2="493.5" stroke="#1a1a1a" stroke-width="1.3"/>
<text x="48.27" y="509.80" font-size="12.3" style="" fill="#000">0</text>
<text x="142.66" y="509.80" font-size="12.3" style="" fill="#000">0.5</text>
<text x="247.01" y="509.80" font-size="12.3" style="" fill="#000">1</text>
<text x="347.78" y="509.80" font-size="12.3" style="" fill="#000">2</text>
<text x="133.79" y="530.00" font-size="16" style="" fill="#000" textLength="130.94" lengthAdjust="spacingAndGlyphs">Concentration (%)</text>
<text x="-455.60" y="0.00" font-size="16" style="" fill="#000" textLength="131.03" lengthAdjust="spacingAndGlyphs" transform="translate(13.8,0) rotate(-90)">Inflammation (mg)</text>
<polyline fill="none" stroke="#000" stroke-width="1.15" points="51.5,320.9 152.3,345.2 251.3,416.3 351.2,430.2"/>
<polyline fill="none" stroke="#000" stroke-width="1.15" points="51.5,321.5 152.3,353.1 251.3,393.3 351.2,405.4"/>
<line x1="51.5" y1="311" x2="51.5" y2="330.2" stroke="#000" stroke-width="1.1"/>
<line x1="48.1" y1="311" x2="54.9" y2="311" stroke="#000" stroke-width="1.1"/>
<line x1="48.1" y1="330.2" x2="54.9" y2="330.2" stroke="#000" stroke-width="1.1"/>
<line x1="48.1" y1="313.2" x2="54.9" y2="313.2" stroke="#000" stroke-width="1.1"/>
<line x1="152.7" y1="337.7" x2="152.7" y2="362.9" stroke="#000" stroke-width="1.4"/>
<line x1="149.45" y1="337.7" x2="155.95" y2="337.7" stroke="#000" stroke-width="1.4"/>
<line x1="149.45" y1="362.9" x2="155.95" y2="362.9" stroke="#000" stroke-width="1.4"/>
<line x1="251.5" y1="388.3" x2="251.5" y2="398.2" stroke="#000" stroke-width="1.4"/>
<line x1="248.0" y1="388.3" x2="255.0" y2="388.3" stroke="#000" stroke-width="1.4"/>
<line x1="248.0" y1="398.2" x2="255.0" y2="398.2" stroke="#000" stroke-width="1.4"/>
<line x1="251.5" y1="412.9" x2="251.5" y2="421.3" stroke="#000" stroke-width="1.4"/>
<line x1="248.0" y1="412.9" x2="255.0" y2="412.9" stroke="#000" stroke-width="1.4"/>
<line x1="248.0" y1="421.3" x2="255.0" y2="421.3" stroke="#000" stroke-width="1.4"/>
<line x1="351.3" y1="401" x2="351.3" y2="411.2" stroke="#000" stroke-width="1.4"/>
<line x1="347.8" y1="401" x2="354.8" y2="401" stroke="#000" stroke-width="1.4"/>
<line x1="347.8" y1="411.2" x2="354.8" y2="411.2" stroke="#000" stroke-width="1.4"/>
<line x1="351.3" y1="426.4" x2="351.3" y2="434.2" stroke="#000" stroke-width="1.4"/>
<line x1="347.8" y1="426.4" x2="354.8" y2="426.4" stroke="#000" stroke-width="1.4"/>
<line x1="347.8" y1="434.2" x2="354.8" y2="434.2" stroke="#000" stroke-width="1.4"/>
<path d="M51.5 317.7L54.8 320.9L51.5 324.09999999999997L48.2 320.9z" fill="#000"/>
<path d="M152.3 342.0L155.60000000000002 345.2L152.3 348.4L149.0 345.2z" fill="#000"/>
<path d="M251.3 413.1L254.60000000000002 416.3L251.3 419.5L248.0 416.3z" fill="#000"/>
<path d="M351.2 427.0L354.5 430.2L351.2 433.4L347.9 430.2z" fill="#000"/>
<path d="M51.5 318.7L54.4 321.5L51.5 324.3L48.6 321.5z" fill="#000"/>
<path d="M152.3 350.3L155.20000000000002 353.1L152.3 355.90000000000003L149.4 353.1z" fill="#000"/>
<path d="M251.3 390.5L254.20000000000002 393.3L251.3 396.1L248.4 393.3z" fill="#000"/>
<path d="M351.2 402.59999999999997L354.09999999999997 405.4L351.2 408.2L348.3 405.4z" fill="#000"/>
<line x1="286.3" y1="296.2" x2="313.7" y2="296.2" stroke="#1a1a1a" stroke-width="1.3"/>
<path d="M299.9 293.09999999999997L302.7 296.2L299.9 299.3L297.09999999999997 296.2z" fill="#000"/>
<line x1="287.2" y1="314.8" x2="313.7" y2="314.8" stroke="#1a1a1a" stroke-width="1.3"/>
<rect x="298.1" y="312.1" width="3" height="2.7" fill="#000"/>
<text x="317.72" y="299.60" font-size="11.4" style="" fill="#000" textLength="67.77" lengthAdjust="spacingAndGlyphs">Chlorophyll-a</text>
<text x="318.25" y="318.10" font-size="11.4" style="" fill="#000" textLength="68.06" lengthAdjust="spacingAndGlyphs">Pheophytin-a</text>
<text x="0.78" y="565.39" font-size="21.168" style="" fill="#000" textLength="11.00" lengthAdjust="spacingAndGlyphs">c</text>
<line x1="52" y1="575" x2="52" y2="852.3" stroke="#1a1a1a" stroke-width="1.3"/>
<line x1="47.3" y1="847.3" x2="52" y2="847.3" stroke="#1a1a1a" stroke-width="1.3"/>
<text x="33.36" y="852.81" font-size="13.7" style="stroke-width:0.05px;" fill="#000" textLength="7.56" lengthAdjust="spacingAndGlyphs">0</text>
<line x1="47.3" y1="813.3499999999999" x2="52" y2="813.3499999999999" stroke="#1a1a1a" stroke-width="1.3"/>
<text x="26.18" y="818.86" font-size="13.7" style="stroke-width:0.05px;" fill="#000" textLength="18.04" lengthAdjust="spacingAndGlyphs">0.1</text>
<line x1="47.3" y1="779.4" x2="52" y2="779.4" stroke="#1a1a1a" stroke-width="1.3"/>
<text x="26.18" y="784.91" font-size="13.7" style="stroke-width:0.05px;" fill="#000" textLength="18.07" lengthAdjust="spacingAndGlyphs">0.2</text>
<line x1="47.3" y1="745.4499999999999" x2="52" y2="745.4499999999999" stroke="#1a1a1a" stroke-width="1.3"/>
<text x="26.18" y="750.96" font-size="13.7" style="stroke-width:0.05px;" fill="#000" textLength="17.99" lengthAdjust="spacingAndGlyphs">0.3</text>
<line x1="47.3" y1="711.5" x2="52" y2="711.5" stroke="#1a1a1a" stroke-width="1.3"/>
<text x="26.19" y="717.01" font-size="13.7" style="stroke-width:0.05px;" fill="#000" textLength="17.80" lengthAdjust="spacingAndGlyphs">0.4</text>
<line x1="47.3" y1="677.55" x2="52" y2="677.55" stroke="#1a1a1a" stroke-width="1.3"/>
<text x="26.18" y="683.06" font-size="13.7" style="stroke-width:0.05px;" fill="#000" textLength="17.96" lengthAdjust="spacingAndGlyphs">0.5</text>
<line x1="47.3" y1="643.5999999999999" x2="52" y2="643.5999999999999" stroke="#1a1a1a" stroke-width="1.3"/>
<text x="26.18" y="649.11" font-size="13.7" style="stroke-width:0.05px;" fill="#000" textLength="17.99" lengthAdjust="spacingAndGlyphs">0.6</text>
<line x1="47.3" y1="609.6499999999999" x2="52" y2="609.6499999999999" stroke="#1a1a1a" stroke-width="1.3"/>
<text x="26.18" y="615.16" font-size="13.7" style="stroke-width:0.05px;" fill="#000" textLength="18.07" lengthAdjust="spacingAndGlyphs">0.7</text>
<line x1="47.3" y1="575.6999999999999" x2="52" y2="575.6999999999999" stroke="#1a1a1a" stroke-width="1.3"/>
<text x="26.18" y="581.21" font-size="13.7" style="stroke-width:0.05px;" fill="#000" textLength="17.99" lengthAdjust="spacingAndGlyphs">0.8</text>
<line x1="51.4" y1="847.3" x2="354" y2="847.3" stroke="#1a1a1a" stroke-width="1.3"/>
<line x1="353.5" y1="847.3" x2="353.5" y2="852.5" stroke="#1a1a1a" stroke-width="1.3"/>
<rect x="75.80" y="627.60" width="28.90" height="219.70" fill="#000" stroke="#000" stroke-width="1.6"/>
<rect x="121.20" y="782.90" width="28.70" height="64.40" fill="url(#pDic)" stroke="#000" stroke-width="1.6"/>
<rect x="165.20" y="779.30" width="29.40" height="68.00" fill="url(#pDiam)" stroke="#000" stroke-width="1.6"/>
<rect x="211.60" y="807.20" width="29.20" height="40.10" fill="url(#pBrick)" stroke="#000" stroke-width="1.6"/>
<rect x="256.20" y="633.30" width="29.40" height="214.00" fill="url(#pShingleC)" stroke="#000" stroke-width="1.6"/>
<rect x="301.20" y="677.30" width="29.60" height="170.00" fill="url(#pWeaveC)" stroke="#000" stroke-width="1.6"/>
<line x1="90.3" y1="614.8" x2="90.3" y2="640" stroke="#000" stroke-width="1.4"/>
<line x1="86.89999999999999" y1="614.8" x2="93.7" y2="614.8" stroke="#000" stroke-width="1.4"/>
<line x1="135.5" y1="779.3" x2="135.5" y2="786" stroke="#000" stroke-width="1.4"/>
<line x1="132.1" y1="779.3" x2="138.9" y2="779.3" stroke="#000" stroke-width="1.4"/>
<line x1="180.4" y1="776" x2="180.4" y2="782" stroke="#000" stroke-width="1.4"/>
<line x1="177.0" y1="776" x2="183.8" y2="776" stroke="#000" stroke-width="1.4"/>
<line x1="225.4" y1="803.6" x2="225.4" y2="809" stroke="#000" stroke-width="1.4"/>
<line x1="222.0" y1="803.6" x2="228.8" y2="803.6" stroke="#000" stroke-width="1.4"/>
<line x1="270.2" y1="622.7" x2="270.2" y2="643" stroke="#000" stroke-width="1.4"/>
<line x1="266.8" y1="622.7" x2="273.59999999999997" y2="622.7" stroke="#000" stroke-width="1.4"/>
<line x1="316.4" y1="668.9" x2="316.4" y2="685" stroke="#000" stroke-width="1.4"/>
<line x1="313.0" y1="668.9" x2="319.79999999999995" y2="668.9" stroke="#000" stroke-width="1.4"/>
<text x="129.52" y="773.39" font-size="13.068" style="" fill="#000" textLength="8.66" lengthAdjust="spacingAndGlyphs">**</text>
<text x="172.90" y="768.48" font-size="13.92" style="" fill="#000" textLength="9.49" lengthAdjust="spacingAndGlyphs">**</text>
<text x="218.62" y="795.79" font-size="13.068" style="" fill="#000" textLength="8.87" lengthAdjust="spacingAndGlyphs">**</text>
<text x="311.31" y="662.97" font-size="14.205" style="" fill="#000" textLength="4.59" lengthAdjust="spacingAndGlyphs">*</text>
<text x="159.95" y="869.00" font-size="16" style="" fill="#000" textLength="80.03" lengthAdjust="spacingAndGlyphs">Treatments</text>
<text x="-772.29" y="0.00" font-size="15.5" style="" fill="#000" textLength="125.43" lengthAdjust="spacingAndGlyphs" transform="translate(13.4,0) rotate(-90)">Inflammation (ml)</text>
<rect x="321.5" y="565.50" width="6" height="6" fill="#000" stroke="#000" stroke-width="1"/>
<text x="332.92" y="571.80" font-size="11.4" style="" fill="#000" textLength="105.49" lengthAdjust="spacingAndGlyphs">Control (Coconut oil)</text>
<rect x="321.5" y="579.48" width="6" height="6" fill="url(#pDic)" stroke="#000" stroke-width="1"/>
<text x="332.55" y="585.78" font-size="11.4" style="" fill="#000" textLength="81.67" lengthAdjust="spacingAndGlyphs">Diclofenac (2%)</text>
<rect x="321.5" y="593.46" width="6" height="6" fill="url(#pDiam)" stroke="#000" stroke-width="1"/>
<text x="332.93" y="599.76" font-size="11.4" style="" fill="#000" textLength="185.09" lengthAdjust="spacingAndGlyphs">Chlorophyll a (1% w/v in coconut oil)</text>
<rect x="321.5" y="607.44" width="6" height="6" fill="url(#pBrick)" stroke="#000" stroke-width="1"/>
<text x="332.93" y="613.74" font-size="11.4" style="" fill="#000" textLength="185.09" lengthAdjust="spacingAndGlyphs">Chlorophyll a (2% w/v in coconut oil)</text>
<rect x="321.5" y="621.42" width="6" height="6" fill="url(#pShingle)" stroke="#000" stroke-width="1"/>
<text x="332.93" y="627.72" font-size="11.4" style="" fill="#000" textLength="185.09" lengthAdjust="spacingAndGlyphs">Chlorophyll b (1% w/v in coconut oil)</text>
<rect x="321.5" y="635.40" width="6" height="6" fill="url(#pWeave)" stroke="#000" stroke-width="1"/>
<text x="332.93" y="641.70" font-size="11.4" style="" fill="#000" textLength="185.19" lengthAdjust="spacingAndGlyphs">Chlorophyll b (2% w/v in coconut oil)</text>
</svg>
</body></html>
